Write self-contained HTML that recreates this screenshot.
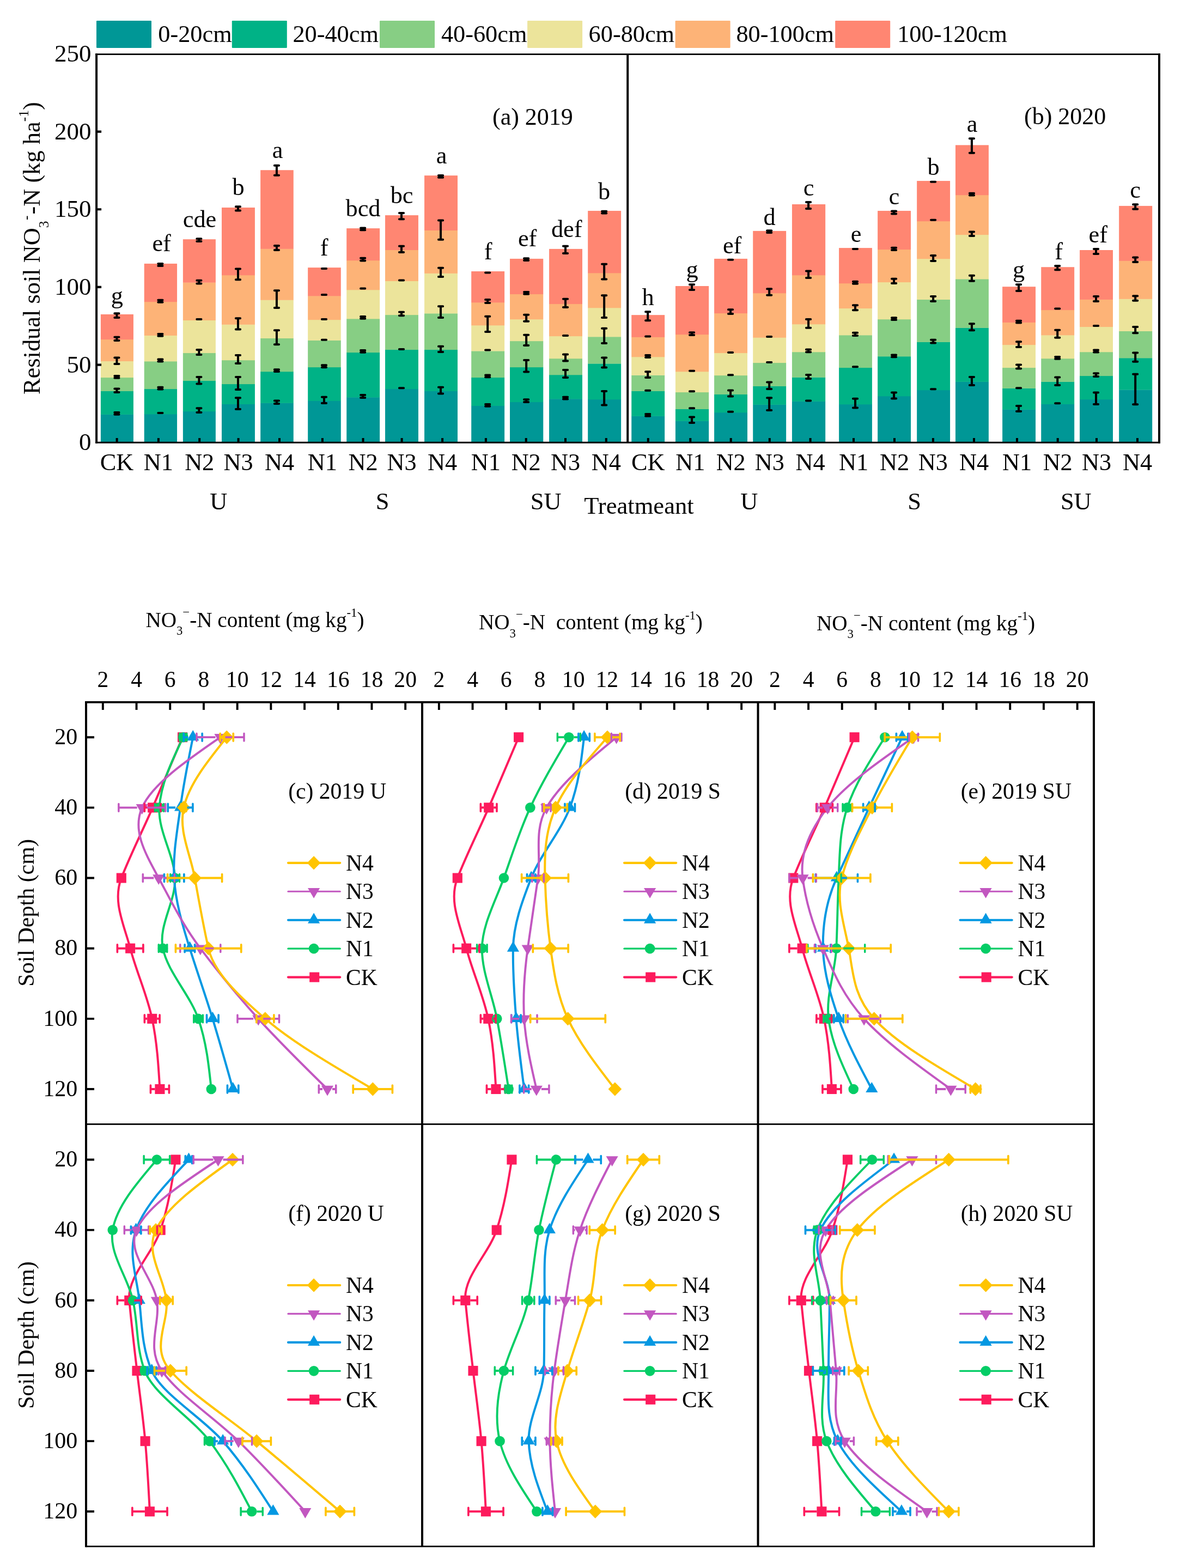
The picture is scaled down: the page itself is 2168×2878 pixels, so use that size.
<!DOCTYPE html>
<html lang="en">
<head>
<meta charset="utf-8">
<title>Residual soil nitrate-N and NO3-N content by soil depth</title>
<style>
html,body{margin:0;padding:0;background:#fff;}
body{width:2168px;height:2878px;overflow:hidden;}
svg{display:block;font-family:'Liberation Serif', 'DejaVu Serif', serif;fill:#000;}
svg text{white-space:pre;}
</style>
</head>
<body>
<svg width="2168" height="2878" viewBox="0 0 2168 2878">
<rect width="2168" height="2878" fill="#ffffff"/>
<g id="topchart">
<rect x="177" y="38" width="101" height="49.9" rx="1.2" fill="#009796"/>
<text x="290.3" y="77.3" font-size="44.3">0-20cm</text>
<rect x="425.8" y="38" width="101" height="49.9" rx="1.2" fill="#00b286"/>
<text x="537.4" y="77.3" font-size="44.3">20-40cm</text>
<rect x="697" y="38" width="101" height="49.9" rx="1.2" fill="#87ce84"/>
<text x="809.9" y="77.3" font-size="44.3">40-60cm</text>
<rect x="968.1" y="38" width="101" height="49.9" rx="1.2" fill="#ece49b"/>
<text x="1080.6" y="77.3" font-size="44.3">60-80cm</text>
<rect x="1239.6" y="38" width="101" height="49.9" rx="1.2" fill="#fdb377"/>
<text x="1351.4" y="77.3" font-size="44.3">80-100cm</text>
<rect x="1533.2" y="38" width="101" height="49.9" rx="1.2" fill="#ff8672"/>
<text x="1647.2" y="77.3" font-size="44.3">100-120cm</text>
<rect x="184.91" y="760.62" width="60.02" height="51.98" fill="#009796"/>
<rect x="184.91" y="717.71" width="60.02" height="43.22" fill="#00b286"/>
<rect x="184.91" y="692.8" width="60.02" height="25.21" fill="#87ce84"/>
<rect x="184.91" y="662.79" width="60.02" height="30.31" fill="#ece49b"/>
<rect x="184.91" y="622.87" width="60.02" height="40.22" fill="#fdb377"/>
<rect x="184.91" y="576.95" width="60.02" height="46.22" fill="#ff8672"/>
<rect x="264.74" y="760.02" width="60.32" height="52.58" fill="#009796"/>
<rect x="264.74" y="713.81" width="60.32" height="46.52" fill="#00b286"/>
<rect x="264.74" y="663.09" width="60.32" height="51.02" fill="#87ce84"/>
<rect x="264.74" y="615.67" width="60.32" height="47.72" fill="#ece49b"/>
<rect x="264.74" y="553.84" width="60.32" height="62.12" fill="#fdb377"/>
<rect x="264.74" y="483.91" width="60.32" height="70.23" fill="#ff8672"/>
<rect x="335.87" y="754.92" width="60.02" height="57.68" fill="#009796"/>
<rect x="335.87" y="698.8" width="60.02" height="56.42" fill="#00b286"/>
<rect x="335.87" y="647.78" width="60.02" height="51.32" fill="#87ce84"/>
<rect x="335.87" y="587.76" width="60.02" height="60.32" fill="#ece49b"/>
<rect x="335.87" y="518.43" width="60.02" height="69.63" fill="#fdb377"/>
<rect x="335.87" y="439.2" width="60.02" height="79.53" fill="#ff8672"/>
<rect x="407" y="741.72" width="60.92" height="70.88" fill="#009796"/>
<rect x="407" y="704.8" width="60.92" height="37.21" fill="#00b286"/>
<rect x="407" y="660.98" width="60.92" height="44.12" fill="#87ce84"/>
<rect x="407" y="595.56" width="60.92" height="65.73" fill="#ece49b"/>
<rect x="407" y="504.92" width="60.92" height="90.94" fill="#fdb377"/>
<rect x="407" y="380.97" width="60.92" height="124.25" fill="#ff8672"/>
<rect x="478.13" y="739.62" width="60.62" height="72.98" fill="#009796"/>
<rect x="478.13" y="681.99" width="60.62" height="57.92" fill="#00b286"/>
<rect x="478.13" y="620.77" width="60.62" height="61.52" fill="#87ce84"/>
<rect x="478.13" y="550.54" width="60.62" height="70.53" fill="#ece49b"/>
<rect x="478.13" y="456.6" width="60.62" height="94.24" fill="#fdb377"/>
<rect x="478.13" y="312.24" width="60.62" height="144.66" fill="#ff8672"/>
<rect x="565.16" y="735.71" width="60.62" height="76.89" fill="#009796"/>
<rect x="565.16" y="673.89" width="60.62" height="62.12" fill="#00b286"/>
<rect x="565.16" y="624.67" width="60.62" height="49.52" fill="#87ce84"/>
<rect x="565.16" y="586.85" width="60.62" height="38.12" fill="#ece49b"/>
<rect x="565.16" y="543.04" width="60.62" height="44.12" fill="#fdb377"/>
<rect x="565.16" y="491.12" width="60.62" height="52.22" fill="#ff8672"/>
<rect x="636.21" y="729.11" width="60.92" height="83.49" fill="#009796"/>
<rect x="636.21" y="646.88" width="60.92" height="82.53" fill="#00b286"/>
<rect x="636.21" y="585.05" width="60.92" height="62.12" fill="#87ce84"/>
<rect x="636.21" y="531.93" width="60.92" height="53.42" fill="#ece49b"/>
<rect x="636.21" y="477.91" width="60.92" height="54.32" fill="#fdb377"/>
<rect x="636.21" y="419.09" width="60.92" height="59.12" fill="#ff8672"/>
<rect x="707.03" y="713.81" width="60.92" height="98.79" fill="#009796"/>
<rect x="707.03" y="641.78" width="60.92" height="72.33" fill="#00b286"/>
<rect x="707.03" y="577.85" width="60.92" height="64.23" fill="#87ce84"/>
<rect x="707.03" y="515.73" width="60.92" height="62.42" fill="#ece49b"/>
<rect x="707.03" y="458.7" width="60.92" height="57.32" fill="#fdb377"/>
<rect x="707.03" y="395.08" width="60.92" height="63.93" fill="#ff8672"/>
<rect x="779.06" y="717.71" width="60.92" height="94.89" fill="#009796"/>
<rect x="779.06" y="641.78" width="60.92" height="76.23" fill="#00b286"/>
<rect x="779.06" y="575.15" width="60.92" height="66.93" fill="#87ce84"/>
<rect x="779.06" y="501.62" width="60.92" height="73.83" fill="#ece49b"/>
<rect x="779.06" y="422.69" width="60.92" height="79.23" fill="#fdb377"/>
<rect x="779.06" y="322.15" width="60.92" height="100.84" fill="#ff8672"/>
<rect x="865.2" y="744.72" width="60.92" height="67.88" fill="#009796"/>
<rect x="865.2" y="692.8" width="60.92" height="52.22" fill="#00b286"/>
<rect x="865.2" y="644.18" width="60.92" height="48.92" fill="#87ce84"/>
<rect x="865.2" y="597.06" width="60.92" height="47.42" fill="#ece49b"/>
<rect x="865.2" y="555.04" width="60.92" height="42.32" fill="#fdb377"/>
<rect x="865.2" y="498.02" width="60.92" height="57.32" fill="#ff8672"/>
<rect x="936.03" y="737.82" width="61.22" height="74.78" fill="#009796"/>
<rect x="936.03" y="673.89" width="61.22" height="64.23" fill="#00b286"/>
<rect x="936.03" y="625.87" width="61.22" height="48.32" fill="#87ce84"/>
<rect x="936.03" y="585.95" width="61.22" height="40.22" fill="#ece49b"/>
<rect x="936.03" y="539.74" width="61.22" height="46.52" fill="#fdb377"/>
<rect x="936.03" y="474.91" width="61.22" height="65.13" fill="#ff8672"/>
<rect x="1008.06" y="732.11" width="60.92" height="80.49" fill="#009796"/>
<rect x="1008.06" y="688" width="60.92" height="44.42" fill="#00b286"/>
<rect x="1008.06" y="657.98" width="60.92" height="30.31" fill="#87ce84"/>
<rect x="1008.06" y="616.87" width="60.92" height="41.42" fill="#ece49b"/>
<rect x="1008.06" y="557.74" width="60.92" height="59.42" fill="#fdb377"/>
<rect x="1008.06" y="456.9" width="60.92" height="101.14" fill="#ff8672"/>
<rect x="1079.18" y="733.01" width="60.92" height="79.59" fill="#009796"/>
<rect x="1079.18" y="667.29" width="60.92" height="66.03" fill="#00b286"/>
<rect x="1079.18" y="618.07" width="60.92" height="49.52" fill="#87ce84"/>
<rect x="1079.18" y="564.95" width="60.92" height="53.42" fill="#ece49b"/>
<rect x="1079.18" y="501.02" width="60.92" height="64.23" fill="#fdb377"/>
<rect x="1079.18" y="386.97" width="60.92" height="114.35" fill="#ff8672"/>
<rect x="1159.23" y="763.63" width="60.92" height="48.97" fill="#009796"/>
<rect x="1159.23" y="717.71" width="60.92" height="46.22" fill="#00b286"/>
<rect x="1159.23" y="688.6" width="60.92" height="29.41" fill="#87ce84"/>
<rect x="1159.23" y="654.98" width="60.92" height="33.91" fill="#ece49b"/>
<rect x="1159.23" y="618.67" width="60.92" height="36.61" fill="#fdb377"/>
<rect x="1159.23" y="578.15" width="60.92" height="40.82" fill="#ff8672"/>
<rect x="1239.96" y="772.63" width="61.22" height="39.97" fill="#009796"/>
<rect x="1239.96" y="750.72" width="61.22" height="22.21" fill="#00b286"/>
<rect x="1239.96" y="719.81" width="61.22" height="31.21" fill="#87ce84"/>
<rect x="1239.96" y="681.99" width="61.22" height="38.12" fill="#ece49b"/>
<rect x="1239.96" y="613.87" width="61.22" height="68.43" fill="#fdb377"/>
<rect x="1239.96" y="525.03" width="61.22" height="89.14" fill="#ff8672"/>
<rect x="1311.09" y="757.02" width="60.92" height="55.58" fill="#009796"/>
<rect x="1311.09" y="723.71" width="60.92" height="33.61" fill="#00b286"/>
<rect x="1311.09" y="688.9" width="60.92" height="35.11" fill="#87ce84"/>
<rect x="1311.09" y="647.78" width="60.92" height="41.42" fill="#ece49b"/>
<rect x="1311.09" y="574.85" width="60.92" height="73.23" fill="#fdb377"/>
<rect x="1311.09" y="474.91" width="60.92" height="100.24" fill="#ff8672"/>
<rect x="1382.22" y="742.62" width="60.92" height="69.98" fill="#009796"/>
<rect x="1382.22" y="708.7" width="60.92" height="34.21" fill="#00b286"/>
<rect x="1382.22" y="665.79" width="60.92" height="43.22" fill="#87ce84"/>
<rect x="1382.22" y="619.57" width="60.92" height="46.52" fill="#ece49b"/>
<rect x="1382.22" y="537.94" width="60.92" height="81.93" fill="#fdb377"/>
<rect x="1382.22" y="423.89" width="60.92" height="114.35" fill="#ff8672"/>
<rect x="1453.95" y="736.61" width="61.22" height="75.99" fill="#009796"/>
<rect x="1453.95" y="692.5" width="61.22" height="44.42" fill="#00b286"/>
<rect x="1453.95" y="645.98" width="61.22" height="46.82" fill="#87ce84"/>
<rect x="1453.95" y="594.96" width="61.22" height="51.32" fill="#ece49b"/>
<rect x="1453.95" y="504.92" width="61.22" height="90.34" fill="#fdb377"/>
<rect x="1453.95" y="374.97" width="61.22" height="130.25" fill="#ff8672"/>
<rect x="1540.09" y="742.02" width="60.83" height="70.58" fill="#009796"/>
<rect x="1540.09" y="674.79" width="60.83" height="67.53" fill="#00b286"/>
<rect x="1540.09" y="615.07" width="60.83" height="60.02" fill="#87ce84"/>
<rect x="1540.09" y="565.85" width="60.83" height="49.52" fill="#ece49b"/>
<rect x="1540.09" y="519.93" width="60.83" height="46.22" fill="#fdb377"/>
<rect x="1540.09" y="455.1" width="60.83" height="65.13" fill="#ff8672"/>
<rect x="1611.13" y="727.01" width="60.92" height="85.59" fill="#009796"/>
<rect x="1611.13" y="654.08" width="60.92" height="73.23" fill="#00b286"/>
<rect x="1611.13" y="585.95" width="60.92" height="68.43" fill="#87ce84"/>
<rect x="1611.13" y="517.83" width="60.92" height="68.43" fill="#ece49b"/>
<rect x="1611.13" y="457.8" width="60.92" height="60.32" fill="#fdb377"/>
<rect x="1611.13" y="386.97" width="60.92" height="71.13" fill="#ff8672"/>
<rect x="1683.16" y="715.91" width="60.92" height="96.69" fill="#009796"/>
<rect x="1683.16" y="627.67" width="60.92" height="88.54" fill="#00b286"/>
<rect x="1683.16" y="549.64" width="60.92" height="78.33" fill="#87ce84"/>
<rect x="1683.16" y="474.91" width="60.92" height="75.03" fill="#ece49b"/>
<rect x="1683.16" y="405.88" width="60.92" height="69.33" fill="#fdb377"/>
<rect x="1683.16" y="332.05" width="60.92" height="74.13" fill="#ff8672"/>
<rect x="1753.99" y="700.6" width="60.92" height="112" fill="#009796"/>
<rect x="1753.99" y="601.56" width="60.92" height="99.34" fill="#00b286"/>
<rect x="1753.99" y="512.12" width="60.92" height="89.74" fill="#87ce84"/>
<rect x="1753.99" y="430.79" width="60.92" height="81.63" fill="#ece49b"/>
<rect x="1753.99" y="357.86" width="60.92" height="73.23" fill="#fdb377"/>
<rect x="1753.99" y="266.33" width="60.92" height="91.84" fill="#ff8672"/>
<rect x="1840.12" y="751.62" width="60.92" height="60.98" fill="#009796"/>
<rect x="1840.12" y="712.61" width="60.92" height="39.32" fill="#00b286"/>
<rect x="1840.12" y="674.79" width="60.92" height="38.12" fill="#87ce84"/>
<rect x="1840.12" y="632.77" width="60.92" height="42.32" fill="#ece49b"/>
<rect x="1840.12" y="591.66" width="60.92" height="41.42" fill="#fdb377"/>
<rect x="1840.12" y="526.23" width="60.92" height="65.73" fill="#ff8672"/>
<rect x="1911.25" y="741.72" width="60.92" height="70.88" fill="#009796"/>
<rect x="1911.25" y="700.6" width="60.92" height="41.42" fill="#00b286"/>
<rect x="1911.25" y="657.98" width="60.92" height="42.92" fill="#87ce84"/>
<rect x="1911.25" y="615.07" width="60.92" height="43.22" fill="#ece49b"/>
<rect x="1911.25" y="568.85" width="60.92" height="46.52" fill="#fdb377"/>
<rect x="1911.25" y="490.22" width="60.92" height="78.93" fill="#ff8672"/>
<rect x="1982.08" y="733.01" width="60.92" height="79.59" fill="#009796"/>
<rect x="1982.08" y="689.8" width="60.92" height="43.52" fill="#00b286"/>
<rect x="1982.08" y="645.98" width="60.92" height="44.12" fill="#87ce84"/>
<rect x="1982.08" y="599.76" width="60.92" height="46.52" fill="#ece49b"/>
<rect x="1982.08" y="549.64" width="60.92" height="50.42" fill="#fdb377"/>
<rect x="1982.08" y="459" width="60.92" height="90.94" fill="#ff8672"/>
<rect x="2054.16" y="715.4" width="61.04" height="97.2" fill="#009796"/>
<rect x="2054.16" y="657.08" width="61.04" height="58.62" fill="#00b286"/>
<rect x="2054.16" y="607.7" width="61.04" height="49.68" fill="#87ce84"/>
<rect x="2054.16" y="548.6" width="61.04" height="59.4" fill="#ece49b"/>
<rect x="2054.16" y="478.62" width="61.04" height="70.28" fill="#fdb377"/>
<rect x="2054.16" y="377.92" width="61.04" height="101" fill="#ff8672"/>
<path d="M210.32 757.07H218.52M210.32 760.87H218.52M210.32 713.5H218.52M210.32 720.11H218.52M210.32 690H218.52M210.32 693.8H218.52M210.32 656.48H218.52M210.32 667.89H218.52M210.32 618.67H218.52M210.32 624.97H218.52M210.32 575.15H218.52M210.32 582.95H218.52M290.3 757.92H298.5M290.3 710.71H298.5M290.3 714.51H298.5M290.3 659.48H298.5M290.3 663.39H298.5M290.3 613.02H298.5M290.3 616.82H298.5M290.3 550.84H298.5M290.3 554.74H298.5M290.3 484.11H298.5M290.3 487.91H298.5M361.28 749.22H369.48M361.28 757.02H369.48M361.28 691.9H369.48M361.28 704.5H369.48M361.28 642.08H369.48M361.28 651.08H369.48M361.28 586.1H369.48M361.28 514.83H369.48M361.28 520.53H369.48M361.28 438.29H369.48M361.28 443.1H369.48M432.86 730.31H441.06M432.86 751.02H441.06M432.86 691.9H441.06M432.86 715.01H441.06M432.86 651.98H441.06M432.86 666.99H441.06M432.86 584.15H441.06M432.86 604.56H441.06M432.86 493.52H441.06M432.86 513.33H441.06M432.86 379.17H441.06M432.86 386.38H441.06M503.84 735.41H512.04M503.84 741.12H512.04M503.84 678.29H512.04M503.84 682.09H512.04M503.84 606.36H512.04M503.84 632.17H512.04M503.84 533.13H512.04M503.84 564.95H512.04M503.84 450.9H512.04M503.84 459H512.04M503.84 303.84H512.04M503.84 321.85H512.04M590.87 728.81H599.07M590.87 739.92H599.07M590.87 670.34H599.07M590.87 674.14H599.07M590.87 623.77H599.07M590.87 585.95H599.07M590.87 541.09H599.07M590.87 493.07H599.07M662.07 724.91H670.27M662.07 730.01H670.27M662.07 643.03H670.27M662.07 646.83H670.27M662.07 580.9H670.27M662.07 584.7H670.27M662.07 529.53H670.27M662.07 473.71H670.27M662.07 478.51H670.27M662.07 418.39H670.27M662.07 422.19H670.27M732.9 712.3H741.1M732.9 640.88H741.1M732.9 572.75H741.1M732.9 579.35H741.1M732.9 514.53H741.1M732.9 451.8H741.1M732.9 462.91H741.1M732.9 390.88H741.1M732.9 402.28H741.1M804.93 710.8H813.13M804.93 722.51H813.13M804.93 635.77H813.13M804.93 645.98H813.13M804.93 562.24H813.13M804.93 582.95H813.13M804.93 491.72H813.13M804.93 507.92H813.13M804.93 404.38H813.13M804.93 439.8H813.13M804.93 321.9H813.13M804.93 325.7H813.13M891.06 741.92H899.26M891.06 745.72H899.26M891.06 688.5H899.26M891.06 692.3H899.26M891.06 642.53H899.26M891.06 580.85H899.26M891.06 609.06H899.26M891.06 549.94H899.26M891.06 555.94H899.26M891.06 500.42H899.26M962.04 733.31H970.24M962.04 738.12H970.24M962.04 660.98H970.24M962.04 682.59H970.24M962.04 614.77H970.24M962.04 633.97H970.24M962.04 577.85H970.24M962.04 589.86H970.24M962.04 536.04H970.24M962.04 539.84H970.24M962.04 474.21H970.24M962.04 478.01H970.24M1033.92 728.71H1042.12M1033.92 732.51H1042.12M1033.92 678.99H1042.12M1033.92 693.1H1042.12M1033.92 650.48H1042.12M1033.92 662.49H1042.12M1033.92 615.97H1042.12M1033.92 548.74H1042.12M1033.92 564.05H1042.12M1033.92 451.8H1042.12M1033.92 465.01H1042.12M1105.05 718.01H1113.25M1105.05 743.52H1113.25M1105.05 656.48H1113.25M1105.05 674.49H1113.25M1105.05 602.76H1113.25M1105.05 630.07H1113.25M1105.05 542.14H1113.25M1105.05 582.95H1113.25M1105.05 484.81H1113.25M1105.05 512.43H1113.25M1105.05 387.63H1113.25M1105.05 391.43H1113.25M1185.09 760.07H1193.29M1185.09 763.87H1193.29M1185.09 716.81H1193.29M1185.09 682.29H1193.29M1185.09 693.1H1193.29M1185.09 651.98H1193.29M1185.09 655.88H1193.29M1185.09 617.47H1193.29M1185.09 572.15H1193.29M1185.09 588.36H1193.29M1265.98 765.43H1274.18M1265.98 775.93H1274.18M1265.98 749.22H1274.18M1265.98 718.31H1274.18M1265.98 680.79H1274.18M1265.98 610.26H1274.18M1265.98 615.07H1274.18M1265.98 522.33H1274.18M1265.98 531.93H1274.18M1336.95 755.67H1345.15M1336.95 716.51H1345.15M1336.95 727.61H1345.15M1336.95 688.3H1345.15M1336.95 646.88H1345.15M1336.95 568.25H1345.15M1336.95 576.05H1345.15M1336.95 476.86H1345.15M1408.08 730.31H1416.28M1408.08 753.12H1416.28M1408.08 701.5H1416.28M1408.08 714.11H1416.28M1408.08 664.89H1416.28M1408.08 618.07H1416.28M1408.08 530.13H1416.28M1408.08 541.84H1416.28M1408.08 423.19H1416.28M1408.08 426.99H1416.28M1479.96 735.41H1488.16M1479.96 687.99H1488.16M1479.96 694.9H1488.16M1479.96 641.48H1488.16M1479.96 646.28H1488.16M1479.96 585.95H1488.16M1479.96 601.86H1488.16M1479.96 497.42H1488.16M1479.96 510.02H1488.16M1479.96 371.07H1488.16M1479.96 383.07H1488.16M1565.91 731.81H1574.11M1565.91 748.62H1574.11M1565.91 673.29H1574.11M1565.91 610.86H1574.11M1565.91 615.97H1574.11M1565.91 560.14H1574.11M1565.91 569.15H1574.11M1565.91 516.83H1574.11M1565.91 520.63H1574.11M1565.91 457.05H1574.11M1636.99 720.41H1645.19M1636.99 731.51H1645.19M1636.99 651.43H1645.19M1636.99 655.23H1645.19M1636.99 583.3H1645.19M1636.99 587.1H1645.19M1636.99 511.82H1645.19M1636.99 519.93H1645.19M1636.99 454.8H1645.19M1636.99 459H1645.19M1636.99 387.57H1645.19M1636.99 392.38H1645.19M1709.02 714.26H1717.22M1709.02 623.77H1717.22M1709.02 629.47H1717.22M1709.02 543.94H1717.22M1709.02 552.94H1717.22M1709.02 468.91H1717.22M1709.02 479.11H1717.22M1709.02 403.78H1717.22M1709.02 333.7H1717.22M1779.85 691.9H1788.05M1779.85 706.9H1788.05M1779.85 594.36H1788.05M1779.85 606.36H1788.05M1779.85 505.82H1788.05M1779.85 515.73H1788.05M1779.85 425.39H1788.05M1779.85 432.89H1788.05M1779.85 354.76H1788.05M1779.85 358.56H1788.05M1779.85 254.32H1788.05M1779.85 280.73H1788.05M1865.98 745.02H1874.18M1865.98 754.92H1874.18M1865.98 712.3H1874.18M1865.98 669.39H1874.18M1865.98 676.59H1874.18M1865.98 627.37H1874.18M1865.98 636.98H1874.18M1865.98 588.71H1874.18M1865.98 592.51H1874.18M1865.98 522.33H1874.18M1865.98 534.03H1874.18M1937.11 740.22H1945.31M1937.11 692.5H1945.31M1937.11 706.9H1945.31M1937.11 655.03H1945.31M1937.11 658.83H1945.31M1937.11 605.76H1945.31M1937.11 619.87H1945.31M1937.11 566.6H1945.31M1937.11 488.11H1945.31M1937.11 495.32H1945.31M2007.94 720.41H2016.14M2007.94 742.02H2016.14M2007.94 685.29H2016.14M2007.94 691H2016.14M2007.94 642.58H2016.14M2007.94 646.38H2016.14M2007.94 598.11H2016.14M2007.94 543.94H2016.14M2007.94 552.94H2016.14M2007.94 456.9H2016.14M2007.94 465.91H2016.14M2080.08 686.66H2088.28M2080.08 742.19H2088.28M2080.08 647.39H2088.28M2080.08 663.65H2088.28M2080.08 599.96H2088.28M2080.08 611.16H2088.28M2080.08 543.19H2088.28M2080.08 551.68H2088.28M2080.08 472.43H2088.28M2080.08 480.92H2088.28M2080.08 375.23H2088.28M2080.08 383.71H2088.28" stroke="#000" stroke-width="4" fill="none" stroke-linecap="round"/>
<path d="M214.42 757.07V760.87M214.42 713.5V720.11M214.42 690V693.8M214.42 656.48V667.89M214.42 618.67V624.97M214.42 575.15V582.95M294.4 710.71V714.51M294.4 659.48V663.39M294.4 613.02V616.82M294.4 550.84V554.74M294.4 484.11V487.91M365.38 749.22V757.02M365.38 691.9V704.5M365.38 642.08V651.08M365.38 514.83V520.53M365.38 438.29V443.1M436.96 730.31V751.02M436.96 691.9V715.01M436.96 651.98V666.99M436.96 584.15V604.56M436.96 493.52V513.33M436.96 379.17V386.38M507.94 735.41V741.12M507.94 678.29V682.09M507.94 606.36V632.17M507.94 533.13V564.95M507.94 450.9V459M507.94 303.84V321.85M594.97 728.81V739.92M594.97 670.34V674.14M666.17 724.91V730.01M666.17 643.03V646.83M666.17 580.9V584.7M666.17 473.71V478.51M666.17 418.39V422.19M737 572.75V579.35M737 451.8V462.91M737 390.88V402.28M809.03 710.8V722.51M809.03 635.77V645.98M809.03 562.24V582.95M809.03 491.72V507.92M809.03 404.38V439.8M809.03 321.9V325.7M895.16 741.92V745.72M895.16 688.5V692.3M895.16 580.85V609.06M895.16 549.94V555.94M966.14 733.31V738.12M966.14 660.98V682.59M966.14 614.77V633.97M966.14 577.85V589.86M966.14 536.04V539.84M966.14 474.21V478.01M1038.02 728.71V732.51M1038.02 678.99V693.1M1038.02 650.48V662.49M1038.02 548.74V564.05M1038.02 451.8V465.01M1109.15 718.01V743.52M1109.15 656.48V674.49M1109.15 602.76V630.07M1109.15 542.14V582.95M1109.15 484.81V512.43M1109.15 387.63V391.43M1189.19 760.07V763.87M1189.19 682.29V693.1M1189.19 651.98V655.88M1189.19 572.15V588.36M1270.08 765.43V775.93M1270.08 610.26V615.07M1270.08 522.33V531.93M1341.05 716.51V727.61M1341.05 568.25V576.05M1412.18 730.31V753.12M1412.18 701.5V714.11M1412.18 530.13V541.84M1412.18 423.19V426.99M1484.06 687.99V694.9M1484.06 641.48V646.28M1484.06 585.95V601.86M1484.06 497.42V510.02M1484.06 371.07V383.07M1570.01 731.81V748.62M1570.01 610.86V615.97M1570.01 560.14V569.15M1570.01 516.83V520.63M1641.09 720.41V731.51M1641.09 651.43V655.23M1641.09 583.3V587.1M1641.09 511.82V519.93M1641.09 454.8V459M1641.09 387.57V392.38M1713.12 623.77V629.47M1713.12 543.94V552.94M1713.12 468.91V479.11M1783.95 691.9V706.9M1783.95 594.36V606.36M1783.95 505.82V515.73M1783.95 425.39V432.89M1783.95 354.76V358.56M1783.95 254.32V280.73M1870.08 745.02V754.92M1870.08 669.39V676.59M1870.08 627.37V636.98M1870.08 588.71V592.51M1870.08 522.33V534.03M1941.21 692.5V706.9M1941.21 655.03V658.83M1941.21 605.76V619.87M1941.21 488.11V495.32M2012.04 720.41V742.02M2012.04 685.29V691M2012.04 642.58V646.38M2012.04 543.94V552.94M2012.04 456.9V465.91M2084.18 686.66V742.19M2084.18 647.39V663.65M2084.18 599.96V611.16M2084.18 543.19V551.68M2084.18 472.43V480.92M2084.18 375.23V383.71" stroke="#000" stroke-width="4" fill="none"/>
<path d="M177.1 98.2V813.75M2128.0 98.2V813.75M1152.2 99.6V812.3" stroke="#000" stroke-width="4" fill="none"/>
<path d="M175.1 99.6H2130M175.1 812.3H2130" stroke="#000" stroke-width="2.9" fill="none"/>
<path d="M177.1 669.55H186.1M177.1 526.9H186.1M177.1 384.25H186.1M177.1 241.6H186.1" stroke="#000" stroke-width="4.2" fill="none"/>
<text x="167.6" y="826.3" font-size="45" text-anchor="end">0</text>
<text x="167.6" y="683.65" font-size="45" text-anchor="end">50</text>
<text x="167.6" y="541" font-size="45" text-anchor="end">100</text>
<text x="167.6" y="398.35" font-size="45" text-anchor="end">150</text>
<text x="167.6" y="255.7" font-size="45" text-anchor="end">200</text>
<text x="167.6" y="113.05" font-size="45" text-anchor="end">250</text>
<path d="M214.6 804V812.3M290.9 804V812.3M366.2 804V812.3M437.6 804V812.3M513 804V812.3M591.9 804V812.3M666.5 804V812.3M737.6 804V812.3M812.1 804V812.3M891.9 804V812.3M965.7 804V812.3M1038 804V812.3M1112.8 804V812.3M1189.8 804V812.3M1267.3 804V812.3M1341.7 804V812.3M1412.8 804V812.3M1487.6 804V812.3M1567 804V812.3M1642 804V812.3M1712.9 804V812.3M1788 804V812.3M1867 804V812.3M1941.7 804V812.3M2013 804V812.3M2088 804V812.3" stroke="#000" stroke-width="4" fill="none"/>
<text x="214.6" y="862.8" font-size="44.3" text-anchor="middle">CK</text>
<text x="290.9" y="862.8" font-size="44.3" text-anchor="middle">N1</text>
<text x="366.2" y="862.8" font-size="44.3" text-anchor="middle">N2</text>
<text x="437.6" y="862.8" font-size="44.3" text-anchor="middle">N3</text>
<text x="513" y="862.8" font-size="44.3" text-anchor="middle">N4</text>
<text x="591.9" y="862.8" font-size="44.3" text-anchor="middle">N1</text>
<text x="666.5" y="862.8" font-size="44.3" text-anchor="middle">N2</text>
<text x="737.6" y="862.8" font-size="44.3" text-anchor="middle">N3</text>
<text x="812.1" y="862.8" font-size="44.3" text-anchor="middle">N4</text>
<text x="891.9" y="862.8" font-size="44.3" text-anchor="middle">N1</text>
<text x="965.7" y="862.8" font-size="44.3" text-anchor="middle">N2</text>
<text x="1038" y="862.8" font-size="44.3" text-anchor="middle">N3</text>
<text x="1112.8" y="862.8" font-size="44.3" text-anchor="middle">N4</text>
<text x="1189.8" y="862.8" font-size="44.3" text-anchor="middle">CK</text>
<text x="1267.3" y="862.8" font-size="44.3" text-anchor="middle">N1</text>
<text x="1341.7" y="862.8" font-size="44.3" text-anchor="middle">N2</text>
<text x="1412.8" y="862.8" font-size="44.3" text-anchor="middle">N3</text>
<text x="1487.6" y="862.8" font-size="44.3" text-anchor="middle">N4</text>
<text x="1567" y="862.8" font-size="44.3" text-anchor="middle">N1</text>
<text x="1642" y="862.8" font-size="44.3" text-anchor="middle">N2</text>
<text x="1712.9" y="862.8" font-size="44.3" text-anchor="middle">N3</text>
<text x="1788" y="862.8" font-size="44.3" text-anchor="middle">N4</text>
<text x="1867" y="862.8" font-size="44.3" text-anchor="middle">N1</text>
<text x="1941.7" y="862.8" font-size="44.3" text-anchor="middle">N2</text>
<text x="2013" y="862.8" font-size="44.3" text-anchor="middle">N3</text>
<text x="2088" y="862.8" font-size="44.3" text-anchor="middle">N4</text>
<text x="401.3" y="935.4" font-size="44.4" text-anchor="middle">U</text>
<text x="702" y="935.4" font-size="44.4" text-anchor="middle">S</text>
<text x="1002.1" y="935.4" font-size="44.4" text-anchor="middle">SU</text>
<text x="1375.4" y="935.4" font-size="44.4" text-anchor="middle">U</text>
<text x="1678.6" y="935.4" font-size="44.4" text-anchor="middle">S</text>
<text x="1975.3" y="935.4" font-size="44.4" text-anchor="middle">SU</text>
<text x="1072.2" y="943.1" font-size="44.6">Treatmeant</text>
<text x="904" y="228.5" font-size="44">(a) 2019</text>
<text x="1880" y="228.0" font-size="44">(b) 2020</text>
<text x="214.9" y="557.1" font-size="44.3" text-anchor="middle">g</text>
<text x="296.6" y="461.1" font-size="44.3" text-anchor="middle">ef</text>
<text x="366.5" y="416.7" font-size="44.3" text-anchor="middle">cde</text>
<text x="437.6" y="358.2" font-size="44.3" text-anchor="middle">b</text>
<text x="509.6" y="290" font-size="44.3" text-anchor="middle">a</text>
<text x="595.2" y="468.6" font-size="44.3" text-anchor="middle">f</text>
<text x="666.5" y="397.2" font-size="44.3" text-anchor="middle">bcd</text>
<text x="737.6" y="373.2" font-size="44.3" text-anchor="middle">bc</text>
<text x="810.6" y="299.9" font-size="44.3" text-anchor="middle">a</text>
<text x="896.1" y="476.1" font-size="44.3" text-anchor="middle">f</text>
<text x="968.1" y="452.1" font-size="44.3" text-anchor="middle">ef</text>
<text x="1040.2" y="434.7" font-size="44.3" text-anchor="middle">def</text>
<text x="1109.2" y="366" font-size="44.3" text-anchor="middle">b</text>
<text x="1189.5" y="560.1" font-size="44.3" text-anchor="middle">h</text>
<text x="1270.6" y="509.1" font-size="44.3" text-anchor="middle">g</text>
<text x="1344.1" y="465" font-size="44.3" text-anchor="middle">ef</text>
<text x="1412.5" y="413.4" font-size="44.3" text-anchor="middle">d</text>
<text x="1484.6" y="359.1" font-size="44.3" text-anchor="middle">c</text>
<text x="1571.5" y="444" font-size="44.3" text-anchor="middle">e</text>
<text x="1641.4" y="375" font-size="44.3" text-anchor="middle">c</text>
<text x="1713.5" y="320.9" font-size="44.3" text-anchor="middle">b</text>
<text x="1784.6" y="242" font-size="44.3" text-anchor="middle">a</text>
<text x="1870.1" y="509.1" font-size="44.3" text-anchor="middle">g</text>
<text x="1943.7" y="475.5" font-size="44.3" text-anchor="middle">f</text>
<text x="2015.7" y="444.6" font-size="44.3" text-anchor="middle">ef</text>
<text x="2084.1" y="363.1" font-size="44.3" text-anchor="middle">c</text>
<text transform="translate(72.8 724) rotate(-90)" font-size="44.4">Residual soil NO<tspan font-size="25.5" dy="16">3</tspan><tspan font-size="25.5" dy="-33" dx="1.5">-</tspan><tspan dy="17" dx="2">-N (kg ha</tspan><tspan font-size="25.5" dy="-21">-1</tspan><tspan dy="21">)</tspan></text>
</g>
<g id="botchart">
<text x="267.4" y="1150.9" font-size="39.2">NO<tspan font-size="22.7" dy="14.3">3</tspan><tspan font-size="22.7" dy="-34.4">−</tspan><tspan dy="20.1" font-size="39.2">-N content (mg kg</tspan><tspan font-size="22.7" dy="-18.7">-1</tspan><tspan dy="18.7" font-size="39.2">)</tspan></text>
<text x="879" y="1155.4" font-size="39.2">NO<tspan font-size="22.7" dy="14.3">3</tspan><tspan font-size="22.7" dy="-34.4">−</tspan><tspan dy="20.1" font-size="39.2">-N  content (mg kg</tspan><tspan font-size="22.7" dy="-18.7">-1</tspan><tspan dy="18.7" font-size="39.2">)</tspan></text>
<text x="1499" y="1156.8" font-size="39.2">NO<tspan font-size="22.7" dy="14.3">3</tspan><tspan font-size="22.7" dy="-34.4">−</tspan><tspan dy="20.1" font-size="39.2">-N content (mg kg</tspan><tspan font-size="22.7" dy="-18.7">-1</tspan><tspan dy="18.7" font-size="39.2">)</tspan></text>
<text x="188.85" y="1260.8" font-size="41.6" text-anchor="middle">2</text>
<text x="250.55" y="1260.8" font-size="41.6" text-anchor="middle">4</text>
<text x="312.25" y="1260.8" font-size="41.6" text-anchor="middle">6</text>
<text x="373.95" y="1260.8" font-size="41.6" text-anchor="middle">8</text>
<text x="435.65" y="1260.8" font-size="41.6" text-anchor="middle">10</text>
<text x="497.35" y="1260.8" font-size="41.6" text-anchor="middle">12</text>
<text x="559.05" y="1260.8" font-size="41.6" text-anchor="middle">14</text>
<text x="620.75" y="1260.8" font-size="41.6" text-anchor="middle">16</text>
<text x="682.45" y="1260.8" font-size="41.6" text-anchor="middle">18</text>
<text x="744.15" y="1260.8" font-size="41.6" text-anchor="middle">20</text>
<text x="805.85" y="1260.8" font-size="41.6" text-anchor="middle">2</text>
<text x="867.55" y="1260.8" font-size="41.6" text-anchor="middle">4</text>
<text x="929.25" y="1260.8" font-size="41.6" text-anchor="middle">6</text>
<text x="990.95" y="1260.8" font-size="41.6" text-anchor="middle">8</text>
<text x="1052.65" y="1260.8" font-size="41.6" text-anchor="middle">10</text>
<text x="1114.35" y="1260.8" font-size="41.6" text-anchor="middle">12</text>
<text x="1176.05" y="1260.8" font-size="41.6" text-anchor="middle">14</text>
<text x="1237.75" y="1260.8" font-size="41.6" text-anchor="middle">16</text>
<text x="1299.45" y="1260.8" font-size="41.6" text-anchor="middle">18</text>
<text x="1361.15" y="1260.8" font-size="41.6" text-anchor="middle">20</text>
<text x="1422.35" y="1260.8" font-size="41.6" text-anchor="middle">2</text>
<text x="1484.05" y="1260.8" font-size="41.6" text-anchor="middle">4</text>
<text x="1545.75" y="1260.8" font-size="41.6" text-anchor="middle">6</text>
<text x="1607.45" y="1260.8" font-size="41.6" text-anchor="middle">8</text>
<text x="1669.15" y="1260.8" font-size="41.6" text-anchor="middle">10</text>
<text x="1730.85" y="1260.8" font-size="41.6" text-anchor="middle">12</text>
<text x="1792.55" y="1260.8" font-size="41.6" text-anchor="middle">14</text>
<text x="1854.25" y="1260.8" font-size="41.6" text-anchor="middle">16</text>
<text x="1915.95" y="1260.8" font-size="41.6" text-anchor="middle">18</text>
<text x="1977.65" y="1260.8" font-size="41.6" text-anchor="middle">20</text>
<text x="142.3" y="1365.9" font-size="42.0" text-anchor="end">20</text>
<text x="142.3" y="1495.06" font-size="42.0" text-anchor="end">40</text>
<text x="142.3" y="1624.22" font-size="42.0" text-anchor="end">60</text>
<text x="142.3" y="1753.38" font-size="42.0" text-anchor="end">80</text>
<text x="142.3" y="1882.54" font-size="42.0" text-anchor="end">100</text>
<text x="142.3" y="2011.7" font-size="42.0" text-anchor="end">120</text>
<text x="142.3" y="2141.2" font-size="42.0" text-anchor="end">20</text>
<text x="142.3" y="2270.36" font-size="42.0" text-anchor="end">40</text>
<text x="142.3" y="2399.52" font-size="42.0" text-anchor="end">60</text>
<text x="142.3" y="2528.68" font-size="42.0" text-anchor="end">80</text>
<text x="142.3" y="2657.84" font-size="42.0" text-anchor="end">100</text>
<text x="142.3" y="2787" font-size="42.0" text-anchor="end">120</text>
<text transform="translate(62.2 1675.4) rotate(-90)" font-size="42" text-anchor="middle">Soil Depth (cm)</text>
<text transform="translate(62.2 2450.5) rotate(-90)" font-size="42" text-anchor="middle">Soil Depth (cm)</text>
<g id="panel-c">
<path d="M335.08 1353.2C316.98 1396.25 298.88 1439.31 280.17 1482.36C261.45 1525.41 239.6 1568.47 222.79 1611.52C205.97 1654.57 227.83 1697.63 239.14 1740.68C250.44 1783.73 270.19 1826.79 279.24 1869.84C288.29 1912.89 290.86 1955.95 293.43 1999" stroke="#fd1b5d" stroke-width="4.0" fill="none" stroke-linecap="round"/>
<path d="M336.31 1353.2C315.67 1396.25 295.03 1439.31 292.51 1482.36C289.99 1525.41 319.33 1568.47 321.2 1611.52C323.06 1654.57 290.33 1697.63 298.98 1740.68C307.64 1783.73 349.27 1826.79 364.08 1869.84C378.89 1912.89 383.36 1955.95 387.83 1999" stroke="#04cd66" stroke-width="3.9" fill="none" stroke-linecap="round"/>
<path d="M354.21 1353.2C345.52 1396.25 336.83 1439.31 331.07 1482.36C325.31 1525.41 317.19 1568.47 319.65 1611.52C322.12 1654.57 334.82 1697.63 348.34 1740.68C361.87 1783.73 377.09 1826.79 390.3 1869.84C403.51 1912.89 415.57 1955.95 427.63 1999" stroke="#0398e2" stroke-width="4.0" fill="none" stroke-linecap="round"/>
<path d="M404.49 1353.2C342.05 1396.25 279.6 1439.31 260.73 1482.36C241.86 1525.41 268.01 1568.47 291.27 1611.52C314.53 1654.57 335.36 1697.63 367.78 1740.68C400.2 1783.73 435.34 1826.79 474.21 1869.84C513.08 1912.89 557.04 1955.95 601.01 1999" stroke="#c257c0" stroke-width="3.9" fill="none" stroke-linecap="round"/>
<path d="M416.21 1353.2C381.61 1396.25 347.01 1439.31 337.24 1482.36C327.47 1525.41 349.95 1568.47 357.6 1611.52C365.24 1654.57 373.01 1697.63 382.59 1740.68C392.17 1783.73 436.58 1826.79 486.86 1869.84C537.15 1912.89 610.72 1955.95 684.3 1999" stroke="#ffc400" stroke-width="4.0" fill="none" stroke-linecap="round"/>
<rect x="326.03" y="1344.15" width="18.1" height="18.1" fill="#fd1b5d"/>
<rect x="271.12" y="1473.31" width="18.1" height="18.1" fill="#fd1b5d"/>
<rect x="213.74" y="1602.47" width="18.1" height="18.1" fill="#fd1b5d"/>
<rect x="230.09" y="1731.63" width="18.1" height="18.1" fill="#fd1b5d"/>
<rect x="270.19" y="1860.79" width="18.1" height="18.1" fill="#fd1b5d"/>
<rect x="284.38" y="1989.95" width="18.1" height="18.1" fill="#fd1b5d"/>
<circle cx="336.31" cy="1353.2" r="9.3" fill="#04cd66"/>
<circle cx="292.51" cy="1482.36" r="9.3" fill="#04cd66"/>
<circle cx="321.2" cy="1611.52" r="9.3" fill="#04cd66"/>
<circle cx="298.98" cy="1740.68" r="9.3" fill="#04cd66"/>
<circle cx="364.08" cy="1869.84" r="9.3" fill="#04cd66"/>
<circle cx="387.83" cy="1999" r="9.3" fill="#04cd66"/>
<path d="M354.21 1340.1L365.31 1359.3H343.11Z" fill="#0398e2"/>
<path d="M331.07 1469.26L342.17 1488.46H319.97Z" fill="#0398e2"/>
<path d="M319.65 1598.42L330.75 1617.62H308.55Z" fill="#0398e2"/>
<path d="M348.34 1727.58L359.44 1746.78H337.24Z" fill="#0398e2"/>
<path d="M390.3 1856.74L401.4 1875.94H379.2Z" fill="#0398e2"/>
<path d="M427.63 1985.9L438.73 2005.1H416.53Z" fill="#0398e2"/>
<path d="M404.49 1365.8L415.59 1346.9H393.39Z" fill="#c257c0"/>
<path d="M260.73 1494.96L271.83 1476.06H249.63Z" fill="#c257c0"/>
<path d="M291.27 1624.12L302.37 1605.22H280.17Z" fill="#c257c0"/>
<path d="M367.78 1753.28L378.88 1734.38H356.68Z" fill="#c257c0"/>
<path d="M474.21 1882.44L485.31 1863.54H463.11Z" fill="#c257c0"/>
<path d="M601.01 2011.6L612.11 1992.7H589.91Z" fill="#c257c0"/>
<path d="M416.21 1341L428.11 1353.2L416.21 1365.4L404.31 1353.2Z" fill="#ffc400" stroke="#ffc400" stroke-width="0.8" stroke-linejoin="round"/>
<path d="M337.24 1470.16L349.14 1482.36L337.24 1494.56L325.34 1482.36Z" fill="#ffc400" stroke="#ffc400" stroke-width="0.8" stroke-linejoin="round"/>
<path d="M357.6 1599.32L369.5 1611.52L357.6 1623.72L345.7 1611.52Z" fill="#ffc400" stroke="#ffc400" stroke-width="0.8" stroke-linejoin="round"/>
<path d="M382.59 1728.48L394.49 1740.68L382.59 1752.88L370.69 1740.68Z" fill="#ffc400" stroke="#ffc400" stroke-width="0.8" stroke-linejoin="round"/>
<path d="M486.86 1857.64L498.76 1869.84L486.86 1882.04L474.96 1869.84Z" fill="#ffc400" stroke="#ffc400" stroke-width="0.8" stroke-linejoin="round"/>
<path d="M684.3 1986.8L696.2 1999L684.3 2011.2L672.4 1999Z" fill="#ffc400" stroke="#ffc400" stroke-width="0.8" stroke-linejoin="round"/>
<path d="M265.36 1482.36H271.17M289.17 1482.36H294.97M215.38 1740.68H230.14M248.14 1740.68H262.89M265.36 1869.84H270.24M288.24 1869.84H293.12M276.46 1999H284.43M302.43 1999H310.4" stroke="#fd1b5d" stroke-width="4.0" fill="none"/>
<path d="M265.36 1475.46V1489.26M294.97 1475.46V1489.26M215.38 1733.78V1747.58M262.89 1733.78V1747.58M265.36 1862.94V1876.74M293.12 1862.94V1876.74M276.46 1992.1V2005.9M310.4 1992.1V2005.9" stroke="#fd1b5d" stroke-width="3.7" stroke-linecap="round" fill="none"/>
<path d="M329.83 1346.3V1360.1M342.79 1346.3V1360.1M284.49 1475.46V1489.26M300.53 1475.46V1489.26M312.87 1604.62V1618.42M329.53 1604.62V1618.42M291.27 1733.78V1747.58M306.7 1733.78V1747.58M355.75 1862.94V1876.74M372.41 1862.94V1876.74" stroke="#04cd66" stroke-width="3.5" stroke-linecap="round" fill="none"/>
<path d="M337.24 1353.2H345.21M363.21 1353.2H371.17M308.24 1482.36H322.07M340.07 1482.36H353.9M301.45 1611.52H310.65M328.65 1611.52H337.86M339.09 1740.68H339.34M357.34 1740.68H357.6M379.5 1869.84H381.3M399.3 1869.84H401.1M417.45 1999H418.63M436.63 1999H437.81" stroke="#0398e2" stroke-width="4.0" fill="none"/>
<path d="M337.24 1346.3V1360.1M371.17 1346.3V1360.1M308.24 1475.46V1489.26M353.9 1475.46V1489.26M301.45 1604.62V1618.42M337.86 1604.62V1618.42M339.09 1733.78V1747.58M357.6 1733.78V1747.58M379.5 1862.94V1876.74M401.1 1862.94V1876.74M417.45 1992.1V2005.9M437.81 1992.1V2005.9" stroke="#0398e2" stroke-width="3.7" stroke-linecap="round" fill="none"/>
<path d="M360.99 1353.2H395.49M413.49 1353.2H447.99M217.85 1482.36H251.73M269.73 1482.36H303.61M262.27 1611.52H282.27M300.27 1611.52H320.27M330.76 1740.68H358.78M376.78 1740.68H404.8M435.96 1869.84H465.21M483.21 1869.84H512.47M585.27 1999H592.01M610.01 1999H616.74" stroke="#c257c0" stroke-width="3.8" fill="none"/>
<path d="M360.99 1346.3V1360.1M447.99 1346.3V1360.1M217.85 1475.46V1489.26M303.61 1475.46V1489.26M262.27 1604.62V1618.42M320.27 1604.62V1618.42M330.76 1733.78V1747.58M404.8 1733.78V1747.58M435.96 1862.94V1876.74M512.47 1862.94V1876.74M585.27 1992.1V2005.9M616.74 1992.1V2005.9" stroke="#c257c0" stroke-width="3.5" stroke-linecap="round" fill="none"/>
<path d="M404.18 1353.2H406.41M426.01 1353.2H428.25M307.62 1611.52H347.8M367.4 1611.52H407.58M322.43 1740.68H372.79M392.39 1740.68H442.75M470.82 1869.84H477.06M496.66 1869.84H502.9M648.21 1999H674.5M694.1 1999H720.4" stroke="#ffc400" stroke-width="4.0" fill="none"/>
<path d="M404.18 1346.3V1360.1M428.25 1346.3V1360.1M332.61 1475.46V1489.26M341.87 1475.46V1489.26M307.62 1604.62V1618.42M407.58 1604.62V1618.42M322.43 1733.78V1747.58M442.75 1733.78V1747.58M470.82 1862.94V1876.74M502.9 1862.94V1876.74M648.21 1992.1V2005.9M720.4 1992.1V2005.9" stroke="#ffc400" stroke-width="3.7" stroke-linecap="round" fill="none"/>
<text x="529.2" y="1465.7" font-size="41.6">(c) 2019 U</text>
<path d="M529 1583.8H624.2" stroke="#ffc400" stroke-width="4.2" stroke-linecap="round" fill="none"/>
<path d="M576.1 1571.6L588 1583.8L576.1 1596L564.2 1583.8Z" fill="#ffc400" stroke="#ffc400" stroke-width="0.8" stroke-linejoin="round"/>
<text x="635" y="1597.8" font-size="41.6">N4</text>
<path d="M529 1636.25H624.2" stroke="#c257c0" stroke-width="3.2" stroke-linecap="round" fill="none"/>
<path d="M576.1 1648.85L587.2 1629.95H565Z" fill="#c257c0"/>
<text x="635" y="1650.25" font-size="41.6">N3</text>
<path d="M529 1688.7H624.2" stroke="#0398e2" stroke-width="4.1" stroke-linecap="round" fill="none"/>
<path d="M576.1 1675.6L587.2 1694.8H565Z" fill="#0398e2"/>
<text x="635" y="1702.7" font-size="41.6">N2</text>
<path d="M529 1741.15H624.2" stroke="#04cd66" stroke-width="3.3" stroke-linecap="round" fill="none"/>
<circle cx="576.1" cy="1741.15" r="9.3" fill="#04cd66"/>
<text x="635" y="1755.15" font-size="41.6">N1</text>
<path d="M529 1793.6H624.2" stroke="#fd1b5d" stroke-width="4.2" stroke-linecap="round" fill="none"/>
<rect x="568.15" y="1784.55" width="18.1" height="18.1" fill="#fd1b5d"/>
<text x="635" y="1807.6" font-size="41.6">CK</text>
</g>
<g id="panel-d">
<path d="M952.08 1353.2C933.98 1396.25 915.88 1439.31 897.17 1482.36C878.45 1525.41 856.6 1568.47 839.78 1611.52C822.97 1654.57 844.83 1697.63 856.14 1740.68C867.44 1783.73 887.19 1826.79 896.24 1869.84C905.29 1912.89 907.86 1955.95 910.43 1999" stroke="#fd1b5d" stroke-width="4.0" fill="none" stroke-linecap="round"/>
<path d="M1044.32 1353.2C1018.79 1396.25 993.26 1439.31 973.37 1482.36C953.47 1525.41 940.38 1568.47 924.93 1611.52C909.48 1654.57 885.26 1697.63 884.83 1740.68C884.39 1783.73 904.16 1826.79 912.28 1869.84C920.41 1912.89 926.99 1955.95 933.57 1999" stroke="#04cd66" stroke-width="3.9" fill="none" stroke-linecap="round"/>
<path d="M1072.09 1353.2C1067.2 1396.25 1062.32 1439.31 1046.17 1482.36C1030.03 1525.41 992.13 1568.47 975.22 1611.52C958.3 1654.57 942.6 1697.63 941.9 1740.68C941.19 1783.73 944.06 1826.79 947.45 1869.84C950.85 1912.89 956.55 1955.95 962.26 1999" stroke="#0398e2" stroke-width="4.0" fill="none" stroke-linecap="round"/>
<path d="M1131.63 1353.2C1079.46 1396.25 1027.3 1439.31 1003.29 1482.36C979.28 1525.41 993.73 1568.47 987.56 1611.52C981.39 1654.57 974.62 1697.63 968.74 1740.68C962.86 1783.73 959.59 1826.79 962.26 1869.84C964.93 1912.89 974.86 1955.95 984.78 1999" stroke="#c257c0" stroke-width="3.9" fill="none" stroke-linecap="round"/>
<path d="M1114.97 1353.2C1077 1396.25 1039.02 1439.31 1019.95 1482.36C1000.87 1525.41 999.31 1568.47 1000.51 1611.52C1001.71 1654.57 1004.77 1697.63 1010.69 1740.68C1016.62 1783.73 1022.78 1826.79 1042.47 1869.84C1062.16 1912.89 1095.51 1955.95 1128.85 1999" stroke="#ffc400" stroke-width="4.0" fill="none" stroke-linecap="round"/>
<rect x="943.03" y="1344.15" width="18.1" height="18.1" fill="#fd1b5d"/>
<rect x="888.12" y="1473.31" width="18.1" height="18.1" fill="#fd1b5d"/>
<rect x="830.74" y="1602.47" width="18.1" height="18.1" fill="#fd1b5d"/>
<rect x="847.09" y="1731.63" width="18.1" height="18.1" fill="#fd1b5d"/>
<rect x="887.19" y="1860.79" width="18.1" height="18.1" fill="#fd1b5d"/>
<rect x="901.38" y="1989.95" width="18.1" height="18.1" fill="#fd1b5d"/>
<circle cx="1044.32" cy="1353.2" r="9.3" fill="#04cd66"/>
<circle cx="973.37" cy="1482.36" r="9.3" fill="#04cd66"/>
<circle cx="924.93" cy="1611.52" r="9.3" fill="#04cd66"/>
<circle cx="884.83" cy="1740.68" r="9.3" fill="#04cd66"/>
<circle cx="912.28" cy="1869.84" r="9.3" fill="#04cd66"/>
<circle cx="933.57" cy="1999" r="9.3" fill="#04cd66"/>
<path d="M1072.09 1340.1L1083.19 1359.3H1060.99Z" fill="#0398e2"/>
<path d="M1046.17 1469.26L1057.27 1488.46H1035.07Z" fill="#0398e2"/>
<path d="M975.22 1598.42L986.32 1617.62H964.12Z" fill="#0398e2"/>
<path d="M941.9 1727.58L953 1746.78H930.8Z" fill="#0398e2"/>
<path d="M947.45 1856.74L958.55 1875.94H936.35Z" fill="#0398e2"/>
<path d="M962.26 1985.9L973.36 2005.1H951.16Z" fill="#0398e2"/>
<path d="M1131.63 1365.8L1142.73 1346.9H1120.53Z" fill="#c257c0"/>
<path d="M1003.29 1494.96L1014.39 1476.06H992.19Z" fill="#c257c0"/>
<path d="M987.56 1624.12L998.66 1605.22H976.46Z" fill="#c257c0"/>
<path d="M968.74 1753.28L979.84 1734.38H957.64Z" fill="#c257c0"/>
<path d="M962.26 1882.44L973.36 1863.54H951.16Z" fill="#c257c0"/>
<path d="M984.78 2011.6L995.88 1992.7H973.68Z" fill="#c257c0"/>
<path d="M1114.97 1341L1126.87 1353.2L1114.97 1365.4L1103.07 1353.2Z" fill="#ffc400" stroke="#ffc400" stroke-width="0.8" stroke-linejoin="round"/>
<path d="M1019.95 1470.16L1031.85 1482.36L1019.95 1494.56L1008.05 1482.36Z" fill="#ffc400" stroke="#ffc400" stroke-width="0.8" stroke-linejoin="round"/>
<path d="M1000.51 1599.32L1012.41 1611.52L1000.51 1623.72L988.61 1611.52Z" fill="#ffc400" stroke="#ffc400" stroke-width="0.8" stroke-linejoin="round"/>
<path d="M1010.69 1728.48L1022.59 1740.68L1010.69 1752.88L998.79 1740.68Z" fill="#ffc400" stroke="#ffc400" stroke-width="0.8" stroke-linejoin="round"/>
<path d="M1042.47 1857.64L1054.37 1869.84L1042.47 1882.04L1030.57 1869.84Z" fill="#ffc400" stroke="#ffc400" stroke-width="0.8" stroke-linejoin="round"/>
<path d="M1128.85 1986.8L1140.75 1999L1128.85 2011.2L1116.95 1999Z" fill="#ffc400" stroke="#ffc400" stroke-width="0.8" stroke-linejoin="round"/>
<path d="M882.36 1482.36H888.17M906.17 1482.36H911.97M832.38 1740.68H847.14M865.14 1740.68H879.89M882.36 1869.84H887.24M905.24 1869.84H910.12M893.46 1999H901.43M919.43 1999H927.4" stroke="#fd1b5d" stroke-width="4.0" fill="none"/>
<path d="M882.36 1475.46V1489.26M911.97 1475.46V1489.26M832.38 1733.78V1747.58M879.89 1733.78V1747.58M882.36 1862.94V1876.74M910.12 1862.94V1876.74M893.46 1992.1V2005.9M927.4 1992.1V2005.9" stroke="#fd1b5d" stroke-width="3.7" stroke-linecap="round" fill="none"/>
<path d="M1023.34 1353.2H1035.12M1053.52 1353.2H1065.3M875.57 1740.68H875.63M894.03 1740.68H894.08" stroke="#04cd66" stroke-width="3.8" fill="none"/>
<path d="M1023.34 1346.3V1360.1M1065.3 1346.3V1360.1M875.57 1733.78V1747.58M894.08 1733.78V1747.58M927.4 1992.1V2005.9M939.74 1992.1V2005.9" stroke="#04cd66" stroke-width="3.5" stroke-linecap="round" fill="none"/>
<path d="M1061.9 1353.2H1063.09M1081.09 1353.2H1082.27M1036.92 1482.36H1037.17M1055.17 1482.36H1055.43" stroke="#0398e2" stroke-width="4.0" fill="none"/>
<path d="M1061.9 1346.3V1360.1M1082.27 1346.3V1360.1M1036.92 1475.46V1489.26M1055.43 1475.46V1489.26M967.5 1604.62V1618.42M982.93 1604.62V1618.42M938.81 1862.94V1876.74M956.09 1862.94V1876.74M953.93 1992.1V2005.9M970.59 1992.1V2005.9" stroke="#0398e2" stroke-width="3.7" stroke-linecap="round" fill="none"/>
<path d="M1122.37 1353.2H1122.63M1140.63 1353.2H1140.88M976.76 1611.52H978.56M996.56 1611.52H998.35M938.5 1869.84H953.26M971.26 1869.84H986.01M961.64 1999H975.78M993.78 1999H1007.92" stroke="#c257c0" stroke-width="3.8" fill="none"/>
<path d="M1122.37 1346.3V1360.1M1140.88 1346.3V1360.1M995.58 1475.46V1489.26M1011 1475.46V1489.26M976.76 1604.62V1618.42M998.35 1604.62V1618.42M938.5 1862.94V1876.74M986.01 1862.94V1876.74M961.64 1992.1V2005.9M1007.92 1992.1V2005.9" stroke="#c257c0" stroke-width="3.5" stroke-linecap="round" fill="none"/>
<path d="M1091.83 1353.2H1105.17M1124.77 1353.2H1138.1M998.66 1482.36H1010.15M1029.75 1482.36H1041.24M957.63 1611.52H990.71M1010.31 1611.52H1043.39M978.3 1740.68H1000.89M1020.49 1740.68H1043.09M973.67 1869.84H1032.67M1052.27 1869.84H1111.27" stroke="#ffc400" stroke-width="4.0" fill="none"/>
<path d="M1091.83 1346.3V1360.1M1138.1 1346.3V1360.1M998.66 1475.46V1489.26M1041.24 1475.46V1489.26M957.63 1604.62V1618.42M1043.39 1604.62V1618.42M978.3 1733.78V1747.58M1043.09 1733.78V1747.58M973.67 1862.94V1876.74M1111.27 1862.94V1876.74" stroke="#ffc400" stroke-width="3.7" stroke-linecap="round" fill="none"/>
<text x="1147.2" y="1465.7" font-size="41.6">(d) 2019 S</text>
<path d="M1146 1583.8H1241.2" stroke="#ffc400" stroke-width="4.2" stroke-linecap="round" fill="none"/>
<path d="M1193.1 1571.6L1205 1583.8L1193.1 1596L1181.2 1583.8Z" fill="#ffc400" stroke="#ffc400" stroke-width="0.8" stroke-linejoin="round"/>
<text x="1252" y="1597.8" font-size="41.6">N4</text>
<path d="M1146 1636.25H1241.2" stroke="#c257c0" stroke-width="3.2" stroke-linecap="round" fill="none"/>
<path d="M1193.1 1648.85L1204.2 1629.95H1182Z" fill="#c257c0"/>
<text x="1252" y="1650.25" font-size="41.6">N3</text>
<path d="M1146 1688.7H1241.2" stroke="#0398e2" stroke-width="4.1" stroke-linecap="round" fill="none"/>
<path d="M1193.1 1675.6L1204.2 1694.8H1182Z" fill="#0398e2"/>
<text x="1252" y="1702.7" font-size="41.6">N2</text>
<path d="M1146 1741.15H1241.2" stroke="#04cd66" stroke-width="3.3" stroke-linecap="round" fill="none"/>
<circle cx="1193.1" cy="1741.15" r="9.3" fill="#04cd66"/>
<text x="1252" y="1755.15" font-size="41.6">N1</text>
<path d="M1146 1793.6H1241.2" stroke="#fd1b5d" stroke-width="4.2" stroke-linecap="round" fill="none"/>
<rect x="1185.15" y="1784.55" width="18.1" height="18.1" fill="#fd1b5d"/>
<text x="1252" y="1807.6" font-size="41.6">CK</text>
</g>
<g id="panel-e">
<path d="M1568.58 1353.2C1550.48 1396.25 1532.38 1439.31 1513.67 1482.36C1494.95 1525.41 1473.1 1568.47 1456.29 1611.52C1439.47 1654.57 1461.33 1697.63 1472.64 1740.68C1483.94 1783.73 1503.69 1826.79 1512.74 1869.84C1521.79 1912.89 1524.36 1955.95 1526.93 1999" stroke="#fd1b5d" stroke-width="4.0" fill="none" stroke-linecap="round"/>
<path d="M1624.42 1353.2C1596.94 1396.25 1569.45 1439.31 1555.31 1482.36C1541.17 1525.41 1541.61 1568.47 1539.58 1611.52C1537.55 1654.57 1537.23 1697.63 1535.26 1740.68C1533.29 1783.73 1515.83 1826.79 1521.07 1869.84C1526.31 1912.89 1546.52 1955.95 1566.73 1999" stroke="#04cd66" stroke-width="3.9" fill="none" stroke-linecap="round"/>
<path d="M1656.19 1353.2C1635.83 1396.25 1615.47 1439.31 1595.42 1482.36C1575.37 1525.41 1555.47 1568.47 1535.88 1611.52C1516.29 1654.57 1509.94 1697.63 1510.89 1740.68C1511.84 1783.73 1524.67 1826.79 1539.58 1869.84C1554.49 1912.89 1577.42 1955.95 1600.35 1999" stroke="#0398e2" stroke-width="4.0" fill="none" stroke-linecap="round"/>
<path d="M1677.17 1353.2C1615.16 1396.25 1553.15 1439.31 1519.22 1482.36C1485.28 1525.41 1468.1 1568.47 1473.56 1611.52C1479.02 1654.57 1492.16 1697.63 1510.89 1740.68C1529.62 1783.73 1547.09 1826.79 1586.16 1869.84C1625.24 1912.89 1685.29 1955.95 1745.35 1999" stroke="#c257c0" stroke-width="3.9" fill="none" stroke-linecap="round"/>
<path d="M1674.7 1353.2C1648.63 1396.25 1622.57 1439.31 1600.97 1482.36C1579.38 1525.41 1555.78 1568.47 1545.13 1611.52C1534.48 1654.57 1550.07 1697.63 1558.09 1740.68C1566.11 1783.73 1565.91 1826.79 1604.67 1869.84C1643.44 1912.89 1717.07 1955.95 1790.7 1999" stroke="#ffc400" stroke-width="4.0" fill="none" stroke-linecap="round"/>
<rect x="1559.53" y="1344.15" width="18.1" height="18.1" fill="#fd1b5d"/>
<rect x="1504.62" y="1473.31" width="18.1" height="18.1" fill="#fd1b5d"/>
<rect x="1447.24" y="1602.47" width="18.1" height="18.1" fill="#fd1b5d"/>
<rect x="1463.59" y="1731.63" width="18.1" height="18.1" fill="#fd1b5d"/>
<rect x="1503.69" y="1860.79" width="18.1" height="18.1" fill="#fd1b5d"/>
<rect x="1517.88" y="1989.95" width="18.1" height="18.1" fill="#fd1b5d"/>
<circle cx="1624.42" cy="1353.2" r="9.3" fill="#04cd66"/>
<circle cx="1555.31" cy="1482.36" r="9.3" fill="#04cd66"/>
<circle cx="1539.58" cy="1611.52" r="9.3" fill="#04cd66"/>
<circle cx="1535.26" cy="1740.68" r="9.3" fill="#04cd66"/>
<circle cx="1521.07" cy="1869.84" r="9.3" fill="#04cd66"/>
<circle cx="1566.73" cy="1999" r="9.3" fill="#04cd66"/>
<path d="M1656.19 1340.1L1667.29 1359.3H1645.09Z" fill="#0398e2"/>
<path d="M1595.42 1469.26L1606.52 1488.46H1584.32Z" fill="#0398e2"/>
<path d="M1535.88 1598.42L1546.98 1617.62H1524.78Z" fill="#0398e2"/>
<path d="M1510.89 1727.58L1521.99 1746.78H1499.79Z" fill="#0398e2"/>
<path d="M1539.58 1856.74L1550.68 1875.94H1528.48Z" fill="#0398e2"/>
<path d="M1600.35 1985.9L1611.45 2005.1H1589.25Z" fill="#0398e2"/>
<path d="M1677.17 1365.8L1688.27 1346.9H1666.07Z" fill="#c257c0"/>
<path d="M1519.22 1494.96L1530.32 1476.06H1508.12Z" fill="#c257c0"/>
<path d="M1473.56 1624.12L1484.66 1605.22H1462.46Z" fill="#c257c0"/>
<path d="M1510.89 1753.28L1521.99 1734.38H1499.79Z" fill="#c257c0"/>
<path d="M1586.16 1882.44L1597.26 1863.54H1575.06Z" fill="#c257c0"/>
<path d="M1745.35 2011.6L1756.45 1992.7H1734.25Z" fill="#c257c0"/>
<path d="M1674.7 1341L1686.6 1353.2L1674.7 1365.4L1662.8 1353.2Z" fill="#ffc400" stroke="#ffc400" stroke-width="0.8" stroke-linejoin="round"/>
<path d="M1600.97 1470.16L1612.87 1482.36L1600.97 1494.56L1589.07 1482.36Z" fill="#ffc400" stroke="#ffc400" stroke-width="0.8" stroke-linejoin="round"/>
<path d="M1545.13 1599.32L1557.03 1611.52L1545.13 1623.72L1533.23 1611.52Z" fill="#ffc400" stroke="#ffc400" stroke-width="0.8" stroke-linejoin="round"/>
<path d="M1558.09 1728.48L1569.99 1740.68L1558.09 1752.88L1546.19 1740.68Z" fill="#ffc400" stroke="#ffc400" stroke-width="0.8" stroke-linejoin="round"/>
<path d="M1604.67 1857.64L1616.57 1869.84L1604.67 1882.04L1592.77 1869.84Z" fill="#ffc400" stroke="#ffc400" stroke-width="0.8" stroke-linejoin="round"/>
<path d="M1790.7 1986.8L1802.6 1999L1790.7 2011.2L1778.8 1999Z" fill="#ffc400" stroke="#ffc400" stroke-width="0.8" stroke-linejoin="round"/>
<path d="M1498.86 1482.36H1504.67M1522.67 1482.36H1528.47M1448.88 1740.68H1463.64M1481.64 1740.68H1496.39M1498.86 1869.84H1503.74M1521.74 1869.84H1526.62M1509.96 1999H1517.93M1535.93 1999H1543.9" stroke="#fd1b5d" stroke-width="4.0" fill="none"/>
<path d="M1498.86 1475.46V1489.26M1528.47 1475.46V1489.26M1448.88 1733.78V1747.58M1496.39 1733.78V1747.58M1498.86 1862.94V1876.74M1526.62 1862.94V1876.74M1509.96 1992.1V2005.9M1543.9 1992.1V2005.9" stroke="#fd1b5d" stroke-width="3.7" stroke-linecap="round" fill="none"/>
<path d="M1482.82 1740.68H1526.06M1544.46 1740.68H1587.71M1511.82 1869.84H1511.87M1530.27 1869.84H1530.33" stroke="#04cd66" stroke-width="3.8" fill="none"/>
<path d="M1546.98 1475.46V1489.26M1563.64 1475.46V1489.26M1534.95 1604.62V1618.42M1544.21 1604.62V1618.42M1482.82 1733.78V1747.58M1587.71 1733.78V1747.58M1511.82 1862.94V1876.74M1530.33 1862.94V1876.74" stroke="#04cd66" stroke-width="3.5" stroke-linecap="round" fill="none"/>
<path d="M1645.4 1353.2H1647.19M1665.19 1353.2H1666.99M1584.62 1482.36H1586.42M1604.42 1482.36H1606.22M1497.32 1611.52H1526.88M1544.88 1611.52H1574.44M1497.01 1740.68H1501.89M1519.89 1740.68H1524.77" stroke="#0398e2" stroke-width="4.0" fill="none"/>
<path d="M1645.4 1346.3V1360.1M1666.99 1346.3V1360.1M1584.62 1475.46V1489.26M1606.22 1475.46V1489.26M1497.32 1604.62V1618.42M1574.44 1604.62V1618.42M1497.01 1733.78V1747.58M1524.77 1733.78V1747.58M1530.94 1862.94V1876.74M1548.22 1862.94V1876.74" stroke="#0398e2" stroke-width="3.7" stroke-linecap="round" fill="none"/>
<path d="M1500.71 1482.36H1510.22M1528.22 1482.36H1537.73M1448.88 1611.52H1464.56M1482.56 1611.52H1498.24M1495.46 1740.68H1501.89M1519.89 1740.68H1526.31M1556.24 1869.84H1577.16M1595.16 1869.84H1616.09M1718.51 1999H1736.35M1754.35 1999H1772.19" stroke="#c257c0" stroke-width="3.8" fill="none"/>
<path d="M1668.84 1346.3V1360.1M1685.5 1346.3V1360.1M1500.71 1475.46V1489.26M1537.73 1475.46V1489.26M1448.88 1604.62V1618.42M1498.24 1604.62V1618.42M1495.46 1733.78V1747.58M1526.31 1733.78V1747.58M1556.24 1862.94V1876.74M1616.09 1862.94V1876.74M1718.51 1992.1V2005.9M1772.19 1992.1V2005.9" stroke="#c257c0" stroke-width="3.5" stroke-linecap="round" fill="none"/>
<path d="M1624.11 1353.2H1664.9M1684.5 1353.2H1725.3M1564.57 1482.36H1591.17M1610.77 1482.36H1637.37M1492.38 1611.52H1535.33M1554.93 1611.52H1597.89M1480.96 1740.68H1548.29M1567.89 1740.68H1635.22M1552.54 1869.84H1594.87M1614.47 1869.84H1656.81" stroke="#ffc400" stroke-width="4.0" fill="none"/>
<path d="M1624.11 1346.3V1360.1M1725.3 1346.3V1360.1M1564.57 1475.46V1489.26M1637.37 1475.46V1489.26M1492.38 1604.62V1618.42M1597.89 1604.62V1618.42M1480.96 1733.78V1747.58M1635.22 1733.78V1747.58M1552.54 1862.94V1876.74M1656.81 1862.94V1876.74M1781.44 1992.1V2005.9M1799.95 1992.1V2005.9" stroke="#ffc400" stroke-width="3.7" stroke-linecap="round" fill="none"/>
<text x="1763.7" y="1465.7" font-size="41.6">(e) 2019 SU</text>
<path d="M1762.5 1583.8H1857.7" stroke="#ffc400" stroke-width="4.2" stroke-linecap="round" fill="none"/>
<path d="M1809.6 1571.6L1821.5 1583.8L1809.6 1596L1797.7 1583.8Z" fill="#ffc400" stroke="#ffc400" stroke-width="0.8" stroke-linejoin="round"/>
<text x="1868.5" y="1597.8" font-size="41.6">N4</text>
<path d="M1762.5 1636.25H1857.7" stroke="#c257c0" stroke-width="3.2" stroke-linecap="round" fill="none"/>
<path d="M1809.6 1648.85L1820.7 1629.95H1798.5Z" fill="#c257c0"/>
<text x="1868.5" y="1650.25" font-size="41.6">N3</text>
<path d="M1762.5 1688.7H1857.7" stroke="#0398e2" stroke-width="4.1" stroke-linecap="round" fill="none"/>
<path d="M1809.6 1675.6L1820.7 1694.8H1798.5Z" fill="#0398e2"/>
<text x="1868.5" y="1702.7" font-size="41.6">N2</text>
<path d="M1762.5 1741.15H1857.7" stroke="#04cd66" stroke-width="3.3" stroke-linecap="round" fill="none"/>
<circle cx="1809.6" cy="1741.15" r="9.3" fill="#04cd66"/>
<text x="1868.5" y="1755.15" font-size="41.6">N1</text>
<path d="M1762.5 1793.6H1857.7" stroke="#fd1b5d" stroke-width="4.2" stroke-linecap="round" fill="none"/>
<rect x="1801.65" y="1784.55" width="18.1" height="18.1" fill="#fd1b5d"/>
<text x="1868.5" y="1807.6" font-size="41.6">CK</text>
</g>
<g id="panel-f">
<path d="M322.43 2128.5C315.64 2171.55 308.86 2214.61 294.67 2257.66C280.47 2300.71 233.28 2343.77 237.28 2386.82C241.29 2429.87 246.46 2472.93 251.48 2515.98C256.49 2559.03 262.68 2602.09 266.59 2645.14C270.5 2688.19 272.71 2731.25 274.92 2774.3" stroke="#fd1b5d" stroke-width="4.0" fill="none" stroke-linecap="round"/>
<path d="M287.88 2128.5C250.96 2171.55 214.04 2214.61 206.74 2257.66C199.44 2300.71 234.51 2343.77 244.07 2386.82C253.64 2429.87 249.56 2472.93 265.67 2515.98C281.77 2559.03 352 2602.09 384.75 2645.14C417.5 2688.19 439.84 2731.25 462.18 2774.3" stroke="#04cd66" stroke-width="3.9" fill="none" stroke-linecap="round"/>
<path d="M346.49 2128.5C305.62 2171.55 264.74 2214.61 249.62 2257.66C234.51 2300.71 251.02 2343.77 255.79 2386.82C260.57 2429.87 260.13 2472.93 278.62 2515.98C297.12 2559.03 372 2602.09 409.12 2645.14C446.24 2688.19 473.8 2731.25 501.36 2774.3" stroke="#0398e2" stroke-width="4.0" fill="none" stroke-linecap="round"/>
<path d="M400.48 2128.5C334.9 2171.55 269.32 2214.61 250.55 2257.66C231.78 2300.71 280.93 2343.77 287.88 2386.82C294.82 2429.87 267.47 2472.93 297.13 2515.98C326.79 2559.03 393.95 2602.09 437.81 2645.14C481.67 2688.19 520.98 2731.25 560.28 2774.3" stroke="#c257c0" stroke-width="3.9" fill="none" stroke-linecap="round"/>
<path d="M427.01 2128.5C366.65 2171.55 306.29 2214.61 286.03 2257.66C265.77 2300.71 301.05 2343.77 305.46 2386.82C309.87 2429.87 275.38 2472.93 312.87 2515.98C350.36 2559.03 419.25 2602.09 471.13 2645.14C523.01 2688.19 573.58 2731.25 624.14 2774.3" stroke="#ffc400" stroke-width="4.0" fill="none" stroke-linecap="round"/>
<rect x="313.38" y="2119.45" width="18.1" height="18.1" fill="#fd1b5d"/>
<rect x="285.62" y="2248.61" width="18.1" height="18.1" fill="#fd1b5d"/>
<rect x="228.23" y="2377.77" width="18.1" height="18.1" fill="#fd1b5d"/>
<rect x="242.43" y="2506.93" width="18.1" height="18.1" fill="#fd1b5d"/>
<rect x="257.54" y="2636.09" width="18.1" height="18.1" fill="#fd1b5d"/>
<rect x="265.87" y="2765.25" width="18.1" height="18.1" fill="#fd1b5d"/>
<circle cx="287.88" cy="2128.5" r="9.3" fill="#04cd66"/>
<circle cx="206.74" cy="2257.66" r="9.3" fill="#04cd66"/>
<circle cx="244.07" cy="2386.82" r="9.3" fill="#04cd66"/>
<circle cx="265.67" cy="2515.98" r="9.3" fill="#04cd66"/>
<circle cx="384.75" cy="2645.14" r="9.3" fill="#04cd66"/>
<circle cx="462.18" cy="2774.3" r="9.3" fill="#04cd66"/>
<path d="M346.49 2115.4L357.59 2134.6H335.39Z" fill="#0398e2"/>
<path d="M249.62 2244.56L260.72 2263.76H238.52Z" fill="#0398e2"/>
<path d="M255.79 2373.72L266.89 2392.92H244.69Z" fill="#0398e2"/>
<path d="M278.62 2502.88L289.72 2522.08H267.52Z" fill="#0398e2"/>
<path d="M409.12 2632.04L420.22 2651.24H398.02Z" fill="#0398e2"/>
<path d="M501.36 2761.2L512.46 2780.4H490.26Z" fill="#0398e2"/>
<path d="M400.48 2141.1L411.58 2122.2H389.38Z" fill="#c257c0"/>
<path d="M250.55 2270.26L261.65 2251.36H239.45Z" fill="#c257c0"/>
<path d="M287.88 2399.42L298.98 2380.52H276.78Z" fill="#c257c0"/>
<path d="M297.13 2528.58L308.23 2509.68H286.03Z" fill="#c257c0"/>
<path d="M437.81 2657.74L448.91 2638.84H426.71Z" fill="#c257c0"/>
<path d="M560.28 2786.9L571.38 2768H549.18Z" fill="#c257c0"/>
<path d="M427.01 2116.3L438.91 2128.5L427.01 2140.7L415.11 2128.5Z" fill="#ffc400" stroke="#ffc400" stroke-width="0.8" stroke-linejoin="round"/>
<path d="M286.03 2245.46L297.93 2257.66L286.03 2269.86L274.13 2257.66Z" fill="#ffc400" stroke="#ffc400" stroke-width="0.8" stroke-linejoin="round"/>
<path d="M305.46 2374.62L317.36 2386.82L305.46 2399.02L293.56 2386.82Z" fill="#ffc400" stroke="#ffc400" stroke-width="0.8" stroke-linejoin="round"/>
<path d="M312.87 2503.78L324.77 2515.98L312.87 2528.18L300.97 2515.98Z" fill="#ffc400" stroke="#ffc400" stroke-width="0.8" stroke-linejoin="round"/>
<path d="M471.13 2632.94L483.03 2645.14L471.13 2657.34L459.23 2645.14Z" fill="#ffc400" stroke="#ffc400" stroke-width="0.8" stroke-linejoin="round"/>
<path d="M624.14 2762.1L636.04 2774.3L624.14 2786.5L612.24 2774.3Z" fill="#ffc400" stroke="#ffc400" stroke-width="0.8" stroke-linejoin="round"/>
<path d="M215.38 2386.82H228.28M246.28 2386.82H259.19M242.84 2774.3H265.92M283.92 2774.3H307.01" stroke="#fd1b5d" stroke-width="4.0" fill="none"/>
<path d="M288.5 2250.76V2264.56M300.84 2250.76V2264.56M215.38 2379.92V2393.72M259.19 2379.92V2393.72M242.84 2767.4V2781.2M307.01 2767.4V2781.2" stroke="#fd1b5d" stroke-width="3.7" stroke-linecap="round" fill="none"/>
<path d="M264.12 2128.5H278.68M297.08 2128.5H311.63M375.49 2645.14H375.55M393.95 2645.14H394M442.13 2774.3H452.98M471.38 2774.3H482.23" stroke="#04cd66" stroke-width="3.8" fill="none"/>
<path d="M264.12 2121.6V2135.4M311.63 2121.6V2135.4M259.5 2509.08V2522.88M271.84 2509.08V2522.88M375.49 2638.24V2652.04M394 2638.24V2652.04M442.13 2767.4V2781.2M482.23 2767.4V2781.2" stroke="#04cd66" stroke-width="3.5" stroke-linecap="round" fill="none"/>
<path d="M240.37 2257.66H240.62M258.62 2257.66H258.88M393.69 2645.14H400.12M418.12 2645.14H424.54" stroke="#0398e2" stroke-width="4.0" fill="none"/>
<path d="M340.32 2121.6V2135.4M352.66 2121.6V2135.4M240.37 2250.76V2264.56M258.88 2250.76V2264.56M270.29 2509.08V2522.88M286.95 2509.08V2522.88M393.69 2638.24V2652.04M424.54 2638.24V2652.04" stroke="#0398e2" stroke-width="3.7" stroke-linecap="round" fill="none"/>
<path d="M355.13 2128.5H391.48M409.48 2128.5H445.83M228.34 2257.66H241.55M259.55 2257.66H272.76M413.13 2645.14H428.81M446.81 2645.14H462.49" stroke="#c257c0" stroke-width="3.8" fill="none"/>
<path d="M355.13 2121.6V2135.4M445.83 2121.6V2135.4M228.34 2250.76V2264.56M272.76 2250.76V2264.56M290.96 2509.08V2522.88M303.3 2509.08V2522.88M413.13 2638.24V2652.04M462.49 2638.24V2652.04" stroke="#c257c0" stroke-width="3.5" stroke-linecap="round" fill="none"/>
<path d="M275.23 2257.66H276.23M295.83 2257.66H296.83M293.74 2386.82H295.66M315.26 2386.82H317.19M283.56 2515.98H303.07M322.67 2515.98H342.17M444.91 2645.14H461.33M480.93 2645.14H497.35M597.92 2774.3H614.34M633.94 2774.3H650.37" stroke="#ffc400" stroke-width="4.0" fill="none"/>
<path d="M275.23 2250.76V2264.56M296.83 2250.76V2264.56M293.74 2379.92V2393.72M317.19 2379.92V2393.72M283.56 2509.08V2522.88M342.17 2509.08V2522.88M444.91 2638.24V2652.04M497.35 2638.24V2652.04M597.92 2767.4V2781.2M650.37 2767.4V2781.2" stroke="#ffc400" stroke-width="3.7" stroke-linecap="round" fill="none"/>
<text x="529.2" y="2240.6" font-size="41.6">(f) 2020 U</text>
<path d="M529 2359H624.2" stroke="#ffc400" stroke-width="4.2" stroke-linecap="round" fill="none"/>
<path d="M576.1 2346.8L588 2359L576.1 2371.2L564.2 2359Z" fill="#ffc400" stroke="#ffc400" stroke-width="0.8" stroke-linejoin="round"/>
<text x="635" y="2373" font-size="41.6">N4</text>
<path d="M529 2411.45H624.2" stroke="#c257c0" stroke-width="3.2" stroke-linecap="round" fill="none"/>
<path d="M576.1 2424.05L587.2 2405.15H565Z" fill="#c257c0"/>
<text x="635" y="2425.45" font-size="41.6">N3</text>
<path d="M529 2463.9H624.2" stroke="#0398e2" stroke-width="4.1" stroke-linecap="round" fill="none"/>
<path d="M576.1 2450.8L587.2 2470H565Z" fill="#0398e2"/>
<text x="635" y="2477.9" font-size="41.6">N2</text>
<path d="M529 2516.35H624.2" stroke="#04cd66" stroke-width="3.3" stroke-linecap="round" fill="none"/>
<circle cx="576.1" cy="2516.35" r="9.3" fill="#04cd66"/>
<text x="635" y="2530.35" font-size="41.6">N1</text>
<path d="M529 2568.8H624.2" stroke="#fd1b5d" stroke-width="4.2" stroke-linecap="round" fill="none"/>
<rect x="568.15" y="2559.75" width="18.1" height="18.1" fill="#fd1b5d"/>
<text x="635" y="2582.8" font-size="41.6">CK</text>
</g>
<g id="panel-g">
<path d="M939.43 2128.5C932.64 2171.55 925.86 2214.61 911.67 2257.66C897.47 2300.71 850.28 2343.77 854.28 2386.82C858.29 2429.87 863.46 2472.93 868.48 2515.98C873.49 2559.03 879.68 2602.09 883.59 2645.14C887.5 2688.19 889.71 2731.25 891.92 2774.3" stroke="#fd1b5d" stroke-width="4.0" fill="none" stroke-linecap="round"/>
<path d="M1020.87 2128.5C1009.41 2171.55 997.94 2214.61 989.41 2257.66C980.87 2300.71 978.24 2343.77 969.66 2386.82C961.09 2429.87 936.74 2472.93 924.93 2515.98C913.12 2559.03 907.45 2602.09 917.53 2645.14C927.6 2688.19 956.5 2731.25 985.4 2774.3" stroke="#04cd66" stroke-width="3.9" fill="none" stroke-linecap="round"/>
<path d="M1079.49 2128.5C1050.82 2171.55 1022.16 2214.61 1008.84 2257.66C995.53 2300.71 1000.81 2343.77 999.59 2386.82C998.37 2429.87 999.77 2472.93 998.35 2515.98C996.93 2559.03 969.46 2602.09 970.59 2645.14C971.72 2688.19 988.43 2731.25 1005.14 2774.3" stroke="#0398e2" stroke-width="4.0" fill="none" stroke-linecap="round"/>
<path d="M1123.61 2128.5C1101.29 2171.55 1078.98 2214.61 1064.68 2257.66C1050.39 2300.71 1045.23 2343.77 1037.84 2386.82C1030.46 2429.87 1023.16 2472.93 1017.48 2515.98C1011.8 2559.03 1009.2 2602.09 1009.46 2645.14C1009.72 2688.19 1014.37 2731.25 1019.02 2774.3" stroke="#c257c0" stroke-width="3.9" fill="none" stroke-linecap="round"/>
<path d="M1180.99 2128.5C1151.55 2171.55 1122.11 2214.61 1105.71 2257.66C1089.31 2300.71 1094.52 2343.77 1082.57 2386.82C1070.63 2429.87 1054.05 2472.93 1041.54 2515.98C1029.04 2559.03 1013.26 2602.09 1021.8 2645.14C1030.34 2688.19 1061.55 2731.25 1092.76 2774.3" stroke="#ffc400" stroke-width="4.0" fill="none" stroke-linecap="round"/>
<rect x="930.38" y="2119.45" width="18.1" height="18.1" fill="#fd1b5d"/>
<rect x="902.62" y="2248.61" width="18.1" height="18.1" fill="#fd1b5d"/>
<rect x="845.23" y="2377.77" width="18.1" height="18.1" fill="#fd1b5d"/>
<rect x="859.43" y="2506.93" width="18.1" height="18.1" fill="#fd1b5d"/>
<rect x="874.54" y="2636.09" width="18.1" height="18.1" fill="#fd1b5d"/>
<rect x="882.87" y="2765.25" width="18.1" height="18.1" fill="#fd1b5d"/>
<circle cx="1020.87" cy="2128.5" r="9.3" fill="#04cd66"/>
<circle cx="989.41" cy="2257.66" r="9.3" fill="#04cd66"/>
<circle cx="969.66" cy="2386.82" r="9.3" fill="#04cd66"/>
<circle cx="924.93" cy="2515.98" r="9.3" fill="#04cd66"/>
<circle cx="917.53" cy="2645.14" r="9.3" fill="#04cd66"/>
<circle cx="985.4" cy="2774.3" r="9.3" fill="#04cd66"/>
<path d="M1079.49 2115.4L1090.59 2134.6H1068.39Z" fill="#0398e2"/>
<path d="M1008.84 2244.56L1019.94 2263.76H997.74Z" fill="#0398e2"/>
<path d="M999.59 2373.72L1010.69 2392.92H988.49Z" fill="#0398e2"/>
<path d="M998.35 2502.88L1009.45 2522.08H987.25Z" fill="#0398e2"/>
<path d="M970.59 2632.04L981.69 2651.24H959.49Z" fill="#0398e2"/>
<path d="M1005.14 2761.2L1016.24 2780.4H994.04Z" fill="#0398e2"/>
<path d="M1123.61 2141.1L1134.7 2122.2H1112.51Z" fill="#c257c0"/>
<path d="M1064.68 2270.26L1075.78 2251.36H1053.58Z" fill="#c257c0"/>
<path d="M1037.84 2399.42L1048.94 2380.52H1026.74Z" fill="#c257c0"/>
<path d="M1017.48 2528.58L1028.58 2509.68H1006.38Z" fill="#c257c0"/>
<path d="M1009.46 2657.74L1020.56 2638.84H998.36Z" fill="#c257c0"/>
<path d="M1019.02 2786.9L1030.12 2768H1007.92Z" fill="#c257c0"/>
<path d="M1180.99 2116.3L1192.89 2128.5L1180.99 2140.7L1169.09 2128.5Z" fill="#ffc400" stroke="#ffc400" stroke-width="0.8" stroke-linejoin="round"/>
<path d="M1105.71 2245.46L1117.61 2257.66L1105.71 2269.86L1093.81 2257.66Z" fill="#ffc400" stroke="#ffc400" stroke-width="0.8" stroke-linejoin="round"/>
<path d="M1082.57 2374.62L1094.47 2386.82L1082.57 2399.02L1070.67 2386.82Z" fill="#ffc400" stroke="#ffc400" stroke-width="0.8" stroke-linejoin="round"/>
<path d="M1041.54 2503.78L1053.44 2515.98L1041.54 2528.18L1029.64 2515.98Z" fill="#ffc400" stroke="#ffc400" stroke-width="0.8" stroke-linejoin="round"/>
<path d="M1021.8 2632.94L1033.7 2645.14L1021.8 2657.34L1009.9 2645.14Z" fill="#ffc400" stroke="#ffc400" stroke-width="0.8" stroke-linejoin="round"/>
<path d="M1092.76 2762.1L1104.66 2774.3L1092.76 2786.5L1080.86 2774.3Z" fill="#ffc400" stroke="#ffc400" stroke-width="0.8" stroke-linejoin="round"/>
<path d="M832.38 2386.82H845.28M863.28 2386.82H876.19M859.84 2774.3H882.92M900.92 2774.3H924.01" stroke="#fd1b5d" stroke-width="4.0" fill="none"/>
<path d="M905.5 2250.76V2264.56M917.84 2250.76V2264.56M832.38 2379.92V2393.72M876.19 2379.92V2393.72M859.84 2767.4V2781.2M924.01 2767.4V2781.2" stroke="#fd1b5d" stroke-width="3.7" stroke-linecap="round" fill="none"/>
<path d="M985.4 2128.5H1011.67M1030.07 2128.5H1056.35M958.56 2386.82H960.46M978.86 2386.82H980.77M908.27 2515.98H915.73M934.13 2515.98H941.59" stroke="#04cd66" stroke-width="3.8" fill="none"/>
<path d="M985.4 2121.6V2135.4M1056.35 2121.6V2135.4M958.56 2379.92V2393.72M980.77 2379.92V2393.72M908.27 2509.08V2522.88M941.59 2509.08V2522.88" stroke="#04cd66" stroke-width="3.5" stroke-linecap="round" fill="none"/>
<path d="M1055.74 2128.5H1070.49M1088.49 2128.5H1103.24M990.33 2386.82H990.59M1008.59 2386.82H1008.84M982.93 2515.98H989.35M1007.35 2515.98H1013.78M958.25 2645.14H961.59M979.59 2645.14H982.93M995.89 2774.3H996.14M1014.14 2774.3H1014.4" stroke="#0398e2" stroke-width="4.0" fill="none"/>
<path d="M1055.74 2121.6V2135.4M1103.24 2121.6V2135.4M990.33 2379.92V2393.72M1008.84 2379.92V2393.72M982.93 2509.08V2522.88M1013.78 2509.08V2522.88M958.25 2638.24V2652.04M982.93 2638.24V2652.04M995.89 2767.4V2781.2M1014.4 2767.4V2781.2" stroke="#0398e2" stroke-width="3.7" stroke-linecap="round" fill="none"/>
<path d="M1052.34 2257.66H1055.68M1073.68 2257.66H1077.02M1020.26 2386.82H1028.84M1046.84 2386.82H1055.43M1000.51 2515.98H1008.48M1026.48 2515.98H1034.45" stroke="#c257c0" stroke-width="3.8" fill="none"/>
<path d="M1052.34 2250.76V2264.56M1077.02 2250.76V2264.56M1020.26 2379.92V2393.72M1055.43 2379.92V2393.72M1000.51 2509.08V2522.88M1034.45 2509.08V2522.88M1003.29 2638.24V2652.04M1015.63 2638.24V2652.04" stroke="#c257c0" stroke-width="3.5" stroke-linecap="round" fill="none"/>
<path d="M1151.68 2128.5H1171.19M1190.79 2128.5H1210.29M1082.27 2257.66H1095.91M1115.51 2257.66H1129.16M1061.6 2386.82H1072.77M1092.37 2386.82H1103.55M1024.88 2515.98H1031.74M1051.34 2515.98H1058.2M1011.62 2645.14H1012M1031.6 2645.14H1031.98M1039.08 2774.3H1082.96M1102.56 2774.3H1146.43" stroke="#ffc400" stroke-width="4.0" fill="none"/>
<path d="M1151.68 2121.6V2135.4M1210.29 2121.6V2135.4M1082.27 2250.76V2264.56M1129.16 2250.76V2264.56M1061.6 2379.92V2393.72M1103.55 2379.92V2393.72M1024.88 2509.08V2522.88M1058.2 2509.08V2522.88M1011.62 2638.24V2652.04M1031.98 2638.24V2652.04M1039.08 2767.4V2781.2M1146.43 2767.4V2781.2" stroke="#ffc400" stroke-width="3.7" stroke-linecap="round" fill="none"/>
<text x="1147.2" y="2240.6" font-size="41.6">(g) 2020 S</text>
<path d="M1146 2359H1241.2" stroke="#ffc400" stroke-width="4.2" stroke-linecap="round" fill="none"/>
<path d="M1193.1 2346.8L1205 2359L1193.1 2371.2L1181.2 2359Z" fill="#ffc400" stroke="#ffc400" stroke-width="0.8" stroke-linejoin="round"/>
<text x="1252" y="2373" font-size="41.6">N4</text>
<path d="M1146 2411.45H1241.2" stroke="#c257c0" stroke-width="3.2" stroke-linecap="round" fill="none"/>
<path d="M1193.1 2424.05L1204.2 2405.15H1182Z" fill="#c257c0"/>
<text x="1252" y="2425.45" font-size="41.6">N3</text>
<path d="M1146 2463.9H1241.2" stroke="#0398e2" stroke-width="4.1" stroke-linecap="round" fill="none"/>
<path d="M1193.1 2450.8L1204.2 2470H1182Z" fill="#0398e2"/>
<text x="1252" y="2477.9" font-size="41.6">N2</text>
<path d="M1146 2516.35H1241.2" stroke="#04cd66" stroke-width="3.3" stroke-linecap="round" fill="none"/>
<circle cx="1193.1" cy="2516.35" r="9.3" fill="#04cd66"/>
<text x="1252" y="2530.35" font-size="41.6">N1</text>
<path d="M1146 2568.8H1241.2" stroke="#fd1b5d" stroke-width="4.2" stroke-linecap="round" fill="none"/>
<rect x="1185.15" y="2559.75" width="18.1" height="18.1" fill="#fd1b5d"/>
<text x="1252" y="2582.8" font-size="41.6">CK</text>
</g>
<g id="panel-h">
<path d="M1555.93 2128.5C1549.14 2171.55 1542.36 2214.61 1528.17 2257.66C1513.97 2300.71 1466.78 2343.77 1470.78 2386.82C1474.79 2429.87 1479.96 2472.93 1484.98 2515.98C1489.99 2559.03 1496.18 2602.09 1500.09 2645.14C1504 2688.19 1506.21 2731.25 1508.42 2774.3" stroke="#fd1b5d" stroke-width="4.0" fill="none" stroke-linecap="round"/>
<path d="M1600.97 2128.5C1558.6 2171.55 1516.24 2214.61 1500.4 2257.66C1484.56 2300.71 1504 2343.77 1505.95 2386.82C1507.91 2429.87 1509.86 2472.93 1511.82 2515.98C1513.77 2559.03 1501.43 2602.09 1517.37 2645.14C1533.31 2688.19 1570.38 2731.25 1607.45 2774.3" stroke="#04cd66" stroke-width="3.9" fill="none" stroke-linecap="round"/>
<path d="M1641.08 2128.5C1583.36 2171.55 1525.65 2214.61 1505.95 2257.66C1486.26 2300.71 1522.86 2343.77 1522.92 2386.82C1522.98 2429.87 1520.71 2472.93 1521.07 2515.98C1521.43 2559.03 1515.41 2602.09 1537.73 2645.14C1560.04 2688.19 1607.5 2731.25 1654.96 2774.3" stroke="#0398e2" stroke-width="4.0" fill="none" stroke-linecap="round"/>
<path d="M1674.39 2128.5C1607.53 2171.55 1540.66 2214.61 1515.52 2257.66C1490.37 2300.71 1519.76 2343.77 1523.54 2386.82C1527.31 2429.87 1531.11 2472.93 1534.95 2515.98C1538.79 2559.03 1522.92 2602.09 1550.69 2645.14C1578.45 2688.19 1640 2731.25 1701.54 2774.3" stroke="#c257c0" stroke-width="3.9" fill="none" stroke-linecap="round"/>
<path d="M1741.65 2128.5C1673.85 2171.55 1606.06 2214.61 1573.82 2257.66C1541.59 2300.71 1541.76 2343.77 1548.22 2386.82C1554.67 2429.87 1562.51 2472.93 1575.67 2515.98C1588.84 2559.03 1601.07 2602.09 1628.74 2645.14C1656.4 2688.19 1699.02 2731.25 1741.65 2774.3" stroke="#ffc400" stroke-width="4.0" fill="none" stroke-linecap="round"/>
<rect x="1546.88" y="2119.45" width="18.1" height="18.1" fill="#fd1b5d"/>
<rect x="1519.12" y="2248.61" width="18.1" height="18.1" fill="#fd1b5d"/>
<rect x="1461.73" y="2377.77" width="18.1" height="18.1" fill="#fd1b5d"/>
<rect x="1475.93" y="2506.93" width="18.1" height="18.1" fill="#fd1b5d"/>
<rect x="1491.04" y="2636.09" width="18.1" height="18.1" fill="#fd1b5d"/>
<rect x="1499.37" y="2765.25" width="18.1" height="18.1" fill="#fd1b5d"/>
<circle cx="1600.97" cy="2128.5" r="9.3" fill="#04cd66"/>
<circle cx="1500.4" cy="2257.66" r="9.3" fill="#04cd66"/>
<circle cx="1505.95" cy="2386.82" r="9.3" fill="#04cd66"/>
<circle cx="1511.82" cy="2515.98" r="9.3" fill="#04cd66"/>
<circle cx="1517.37" cy="2645.14" r="9.3" fill="#04cd66"/>
<circle cx="1607.45" cy="2774.3" r="9.3" fill="#04cd66"/>
<path d="M1641.08 2115.4L1652.18 2134.6H1629.98Z" fill="#0398e2"/>
<path d="M1505.95 2244.56L1517.05 2263.76H1494.85Z" fill="#0398e2"/>
<path d="M1522.92 2373.72L1534.02 2392.92H1511.82Z" fill="#0398e2"/>
<path d="M1521.07 2502.88L1532.17 2522.08H1509.97Z" fill="#0398e2"/>
<path d="M1537.73 2632.04L1548.83 2651.24H1526.63Z" fill="#0398e2"/>
<path d="M1654.96 2761.2L1666.06 2780.4H1643.86Z" fill="#0398e2"/>
<path d="M1674.39 2141.1L1685.49 2122.2H1663.29Z" fill="#c257c0"/>
<path d="M1515.52 2270.26L1526.62 2251.36H1504.42Z" fill="#c257c0"/>
<path d="M1523.54 2399.42L1534.64 2380.52H1512.44Z" fill="#c257c0"/>
<path d="M1534.95 2528.58L1546.05 2509.68H1523.85Z" fill="#c257c0"/>
<path d="M1550.69 2657.74L1561.79 2638.84H1539.59Z" fill="#c257c0"/>
<path d="M1701.54 2786.9L1712.64 2768H1690.44Z" fill="#c257c0"/>
<path d="M1741.65 2116.3L1753.55 2128.5L1741.65 2140.7L1729.75 2128.5Z" fill="#ffc400" stroke="#ffc400" stroke-width="0.8" stroke-linejoin="round"/>
<path d="M1573.82 2245.46L1585.72 2257.66L1573.82 2269.86L1561.92 2257.66Z" fill="#ffc400" stroke="#ffc400" stroke-width="0.8" stroke-linejoin="round"/>
<path d="M1548.22 2374.62L1560.12 2386.82L1548.22 2399.02L1536.32 2386.82Z" fill="#ffc400" stroke="#ffc400" stroke-width="0.8" stroke-linejoin="round"/>
<path d="M1575.67 2503.78L1587.57 2515.98L1575.67 2528.18L1563.77 2515.98Z" fill="#ffc400" stroke="#ffc400" stroke-width="0.8" stroke-linejoin="round"/>
<path d="M1628.74 2632.94L1640.64 2645.14L1628.74 2657.34L1616.84 2645.14Z" fill="#ffc400" stroke="#ffc400" stroke-width="0.8" stroke-linejoin="round"/>
<path d="M1741.65 2762.1L1753.55 2774.3L1741.65 2786.5L1729.75 2774.3Z" fill="#ffc400" stroke="#ffc400" stroke-width="0.8" stroke-linejoin="round"/>
<path d="M1448.88 2386.82H1461.78M1479.78 2386.82H1492.69M1476.34 2774.3H1499.42M1517.42 2774.3H1540.51" stroke="#fd1b5d" stroke-width="4.0" fill="none"/>
<path d="M1522 2250.76V2264.56M1534.34 2250.76V2264.56M1448.88 2379.92V2393.72M1492.69 2379.92V2393.72M1476.34 2767.4V2781.2M1540.51 2767.4V2781.2" stroke="#fd1b5d" stroke-width="3.7" stroke-linecap="round" fill="none"/>
<path d="M1579.68 2128.5H1591.77M1610.17 2128.5H1622.26M1490.53 2386.82H1496.75M1515.15 2386.82H1521.38M1581.54 2774.3H1598.25M1616.65 2774.3H1633.36" stroke="#04cd66" stroke-width="3.8" fill="none"/>
<path d="M1579.68 2121.6V2135.4M1622.26 2121.6V2135.4M1494.23 2250.76V2264.56M1506.57 2250.76V2264.56M1490.53 2379.92V2393.72M1521.38 2379.92V2393.72M1505.64 2509.08V2522.88M1517.99 2509.08V2522.88M1581.54 2767.4V2781.2M1633.36 2767.4V2781.2" stroke="#04cd66" stroke-width="3.5" stroke-linecap="round" fill="none"/>
<path d="M1478.5 2257.66H1496.95M1514.95 2257.66H1533.41M1492.38 2515.98H1512.07M1530.07 2515.98H1549.76M1638.92 2774.3H1645.96M1663.96 2774.3H1671" stroke="#0398e2" stroke-width="4.0" fill="none"/>
<path d="M1478.5 2250.76V2264.56M1533.41 2250.76V2264.56M1492.38 2509.08V2522.88M1549.76 2509.08V2522.88M1531.56 2638.24V2652.04M1543.9 2638.24V2652.04M1638.92 2767.4V2781.2M1671 2767.4V2781.2" stroke="#0398e2" stroke-width="3.7" stroke-linecap="round" fill="none"/>
<path d="M1630.28 2128.5H1665.39M1683.39 2128.5H1718.51M1503.18 2257.66H1506.52M1524.52 2257.66H1527.86M1534.03 2645.14H1541.69M1559.69 2645.14H1567.35M1683.03 2774.3H1692.54M1710.54 2774.3H1720.05" stroke="#c257c0" stroke-width="3.8" fill="none"/>
<path d="M1630.28 2121.6V2135.4M1718.51 2121.6V2135.4M1503.18 2250.76V2264.56M1527.86 2250.76V2264.56M1517.37 2379.92V2393.72M1529.71 2379.92V2393.72M1528.78 2509.08V2522.88M1541.12 2509.08V2522.88M1534.03 2638.24V2652.04M1567.35 2638.24V2652.04M1683.03 2767.4V2781.2M1720.05 2767.4V2781.2" stroke="#c257c0" stroke-width="3.5" stroke-linecap="round" fill="none"/>
<path d="M1632.44 2128.5H1731.85M1751.45 2128.5H1850.86M1541.74 2257.66H1564.02M1583.62 2257.66H1605.91M1524.46 2386.82H1538.42M1558.02 2386.82H1571.97M1558.09 2515.98H1565.87M1585.47 2515.98H1593.26M1608.68 2645.14H1618.94M1638.54 2645.14H1648.79M1723.45 2774.3H1731.85M1751.45 2774.3H1759.85" stroke="#ffc400" stroke-width="4.0" fill="none"/>
<path d="M1632.44 2121.6V2135.4M1850.86 2121.6V2135.4M1541.74 2250.76V2264.56M1605.91 2250.76V2264.56M1524.46 2379.92V2393.72M1571.97 2379.92V2393.72M1558.09 2509.08V2522.88M1593.26 2509.08V2522.88M1608.68 2638.24V2652.04M1648.79 2638.24V2652.04M1723.45 2767.4V2781.2M1759.85 2767.4V2781.2" stroke="#ffc400" stroke-width="3.7" stroke-linecap="round" fill="none"/>
<text x="1763.7" y="2240.6" font-size="41.6">(h) 2020 SU</text>
<path d="M1762.5 2359H1857.7" stroke="#ffc400" stroke-width="4.2" stroke-linecap="round" fill="none"/>
<path d="M1809.6 2346.8L1821.5 2359L1809.6 2371.2L1797.7 2359Z" fill="#ffc400" stroke="#ffc400" stroke-width="0.8" stroke-linejoin="round"/>
<text x="1868.5" y="2373" font-size="41.6">N4</text>
<path d="M1762.5 2411.45H1857.7" stroke="#c257c0" stroke-width="3.2" stroke-linecap="round" fill="none"/>
<path d="M1809.6 2424.05L1820.7 2405.15H1798.5Z" fill="#c257c0"/>
<text x="1868.5" y="2425.45" font-size="41.6">N3</text>
<path d="M1762.5 2463.9H1857.7" stroke="#0398e2" stroke-width="4.1" stroke-linecap="round" fill="none"/>
<path d="M1809.6 2450.8L1820.7 2470H1798.5Z" fill="#0398e2"/>
<text x="1868.5" y="2477.9" font-size="41.6">N2</text>
<path d="M1762.5 2516.35H1857.7" stroke="#04cd66" stroke-width="3.3" stroke-linecap="round" fill="none"/>
<circle cx="1809.6" cy="2516.35" r="9.3" fill="#04cd66"/>
<text x="1868.5" y="2530.35" font-size="41.6">N1</text>
<path d="M1762.5 2568.8H1857.7" stroke="#fd1b5d" stroke-width="4.2" stroke-linecap="round" fill="none"/>
<rect x="1801.65" y="2559.75" width="18.1" height="18.1" fill="#fd1b5d"/>
<text x="1868.5" y="2582.8" font-size="41.6">CK</text>
</g>
<path d="M158.0 1287.05V2839.8M775.0 1288.9V2838.4M1391.5 1288.9V2838.4M2008.0 1287.05V2839.8" stroke="#000" stroke-width="4" fill="none"/>
<path d="M158.0 1288.9H2008.0" stroke="#000" stroke-width="3.7" fill="none"/>
<path d="M158.0 2063.4H2008.0M158.0 2838.4H2008.0" stroke="#000" stroke-width="2.8" fill="none"/>
<path d="M188.85 1288.9V1302.9M250.55 1288.9V1302.9M312.25 1288.9V1302.9M373.95 1288.9V1302.9M435.65 1288.9V1302.9M497.35 1288.9V1302.9M559.05 1288.9V1302.9M620.75 1288.9V1302.9M682.45 1288.9V1302.9M744.15 1288.9V1302.9M805.85 1288.9V1302.9M867.55 1288.9V1302.9M929.25 1288.9V1302.9M990.95 1288.9V1302.9M1052.65 1288.9V1302.9M1114.35 1288.9V1302.9M1176.05 1288.9V1302.9M1237.75 1288.9V1302.9M1299.45 1288.9V1302.9M1361.15 1288.9V1302.9M1422.35 1288.9V1302.9M1484.05 1288.9V1302.9M1545.75 1288.9V1302.9M1607.45 1288.9V1302.9M1669.15 1288.9V1302.9M1730.85 1288.9V1302.9M1792.55 1288.9V1302.9M1854.25 1288.9V1302.9M1915.95 1288.9V1302.9M1977.65 1288.9V1302.9M158.0 1353.2H173M158.0 1482.36H173M158.0 1611.52H173M158.0 1740.68H173M158.0 1869.84H173M158.0 1999H173M158.0 2128.5H173M158.0 2257.66H173M158.0 2386.82H173M158.0 2515.98H173M158.0 2645.14H173M158.0 2774.3H173" stroke="#000" stroke-width="3.9" fill="none"/>
</g>
</svg>
</body>
</html>
